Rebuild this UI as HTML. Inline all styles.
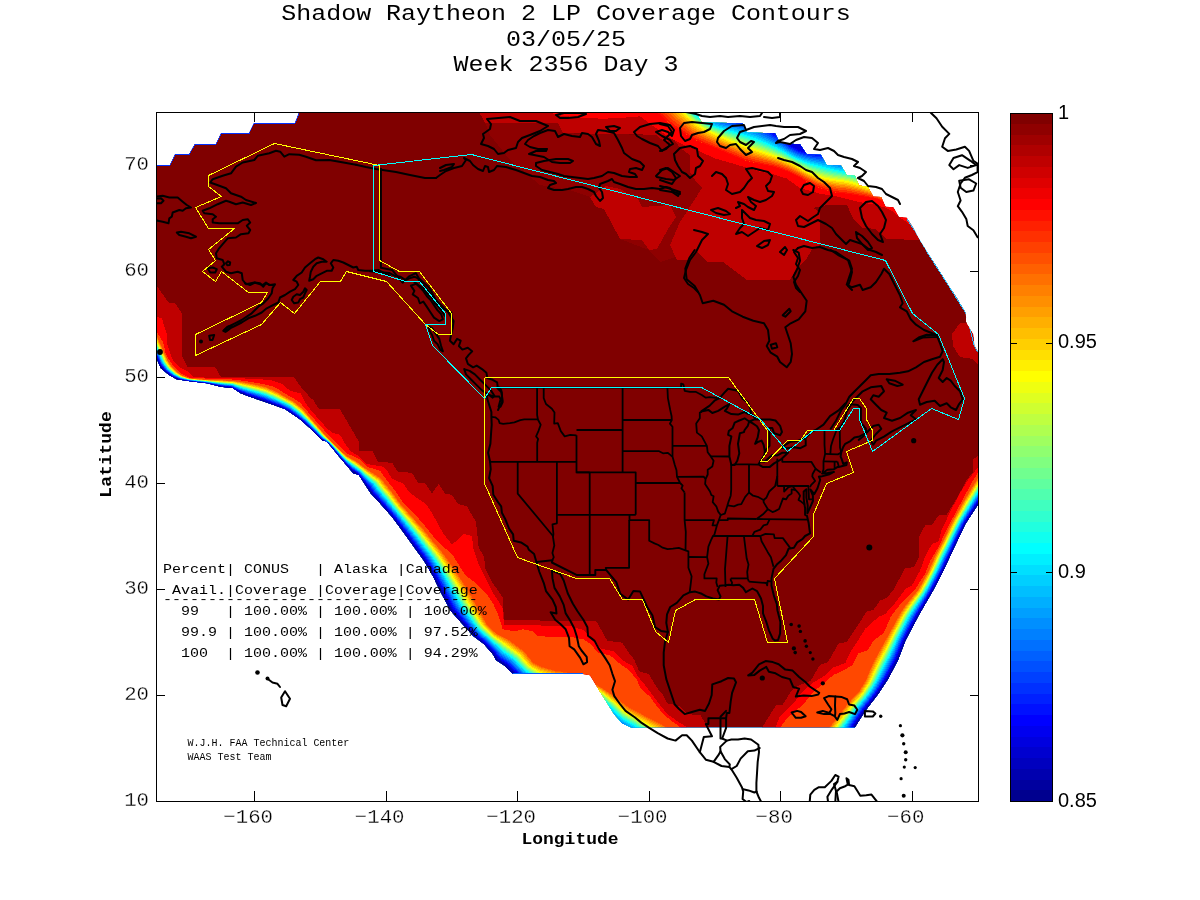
<!DOCTYPE html>
<html><head><meta charset="utf-8"><title>Shadow Raytheon 2 LP Coverage Contours</title>
<style>html,body{margin:0;padding:0;background:#fff}svg{display:block}text{font-family:"Liberation Mono","DejaVu Sans Mono",monospace;fill:#000}.cb{font-family:"Liberation Sans","DejaVu Sans",sans-serif;font-size:20px}</style></head><body>
<svg width="1200" height="900" viewBox="0 0 1200 900">
<rect width="1200" height="900" fill="#fff"/>
<defs><clipPath id="ax"><rect x="157" y="113" width="821" height="688"/></clipPath><clipPath id="oc"><path d="M156,164.5 170,164.5 175,154 189,154 195,143.5 216,143.5 221,133 249,133 254,122.5 295,122.5 299,112 695.8,112 701.7,122.5 742.5,123.3 746.7,132.5 775,133.3 780,143.3 800,144.2 806.7,154.2 820.8,154.7 826.7,165 840.8,165.3 846.7,175 855,175.8 858.9,185.6 867.8,186.7 873.3,196.7 881,197 885.6,206.7 893.3,207.3 898.9,217.1 906.7,217.8 913.3,227.8 917.8,236.7 928.9,254.4 937.8,267.8 948.9,285.6 957.8,298.9 965.6,312.2 966.7,323.3 973.3,334.4 974.4,345.6 979,353.3 979,503 965.3,524 953.3,549.3 942.7,572 933.3,590 918.7,615.3 905.3,640.7 898,660 888,679 878.7,693.3 865.3,710.7 854.7,727.5 631.3,727.5 622,723.3 614,714 600.7,692.7 590,675.3 583,674 513.3,674 504,665.3 496,660 493.3,654.7 484,644 473.3,636 460,621.3 450.7,610.7 440,590.7 433.3,576.7 424,560.7 413.3,546 402.7,531.3 392,516.7 380,503.3 370.7,493.3 358.7,474.7 353.3,473.3 338.7,456 326.7,441.3 322.7,440.7 310.7,428.7 300,419.3 285,409 262.5,401 251.3,397.3 240.7,393.3 232.7,388 220.7,386.7 207.3,383.3 190,381.3 176.7,379.3 168.7,374.7 160.7,368 156,357Z"/></clipPath></defs>
<g stroke="#000" stroke-width="1" shape-rendering="crispEdges">
<path d="M254.5,801V791M254.5,113V122"/>
<path d="M386.5,801V791M386.5,113V122"/>
<path d="M517.5,801V791M517.5,113V122"/>
<path d="M649.5,801V791M649.5,113V122"/>
<path d="M780.5,801V791M780.5,113V122"/>
<path d="M912.5,801V791M912.5,113V122"/>
<path d="M157,695.5H165M978,695.5H970"/>
<path d="M157,589.5H165M978,589.5H970"/>
<path d="M157,483.5H165M978,483.5H970"/>
<path d="M157,377.5H165M978,377.5H970"/>
<path d="M157,271.5H165M978,271.5H970"/>
<path d="M157,165.5H165M978,165.5H970"/>
</g>
<g clip-path="url(#ax)"><g clip-path="url(#oc)" shape-rendering="crispEdges">
<path d="M156,164.5 170,164.5 175,154 189,154 195,143.5 216,143.5 221,133 249,133 254,122.5 295,122.5 299,112 695.8,112 701.7,122.5 742.5,123.3 746.7,132.5 775,133.3 780,143.3 800,144.2 806.7,154.2 820.8,154.7 826.7,165 840.8,165.3 846.7,175 855,175.8 858.9,185.6 867.8,186.7 873.3,196.7 881,197 885.6,206.7 893.3,207.3 898.9,217.1 906.7,217.8 913.3,227.8 917.8,236.7 928.9,254.4 937.8,267.8 948.9,285.6 957.8,298.9 965.6,312.2 966.7,323.3 973.3,334.4 974.4,345.6 979,353.3 979,503 965.3,524 953.3,549.3 942.7,572 933.3,590 918.7,615.3 905.3,640.7 898,660 888,679 878.7,693.3 865.3,710.7 854.7,727.5 631.3,727.5 622,723.3 614,714 600.7,692.7 590,675.3 583,674 513.3,674 504,665.3 496,660 493.3,654.7 484,644 473.3,636 460,621.3 450.7,610.7 440,590.7 433.3,576.7 424,560.7 413.3,546 402.7,531.3 392,516.7 380,503.3 370.7,493.3 358.7,474.7 353.3,473.3 338.7,456 326.7,441.3 322.7,440.7 310.7,428.7 300,419.3 285,409 262.5,401 251.3,397.3 240.7,393.3 232.7,388 220.7,386.7 207.3,383.3 190,381.3 176.7,379.3 168.7,374.7 160.7,368 156,357Z" fill="#800000"/>
<path d="M485,122.7 558,123.3 563.3,133.3 656,135 666,143 673,138 680,148 690,155 690,172 702,188 680,222 670,245 676,257 660,262 649,250 620,239 604,209 590,197 570,190 540,185 510,160 490,135Z" fill="#8e0000"/>
<path d="M479,112 485,122.7 558,123.3 563.3,133.3 630,134 656,135 666,143 673,138 680,148 690,155 690,172 697,183 702,188 693,202 680,222 670,245 677,260 690,260 697,252 707,262 723,262 747,280 790,280 797,268 807,258 813,248 820,245 820,212 813,208 827,205 847,205 853.3,218.9 862.2,227.8 875.6,228.9 886.7,238.9 918.9,240 1000,240 1000,100 479,100Z" fill="#bf0000"/>
<path d="M590,197 596,207 604,209 620,239 642,240 649,250 657,249 668,229 676,217 670,205 642,207 638,199 620,189 606,186Z" fill="#bf0000"/>
<path d="M960,323 967,323 985,353 985,370 979,366 973,359 960,357 953,346 952,334Z" fill="#bf0000"/>
<path d="M156,284.7 168.7,302.7 175.3,303.3 182,313.3 182,356 187.3,366.7 215.3,367.3 220.7,376.7 294,377.3 300.7,386.7 310,397.3 313.3,400 318.7,408.7 340,409.3 358.7,441.3 358.7,450.7 372.7,451.3 378,462 392,462.7 398,472 412,472.7 418,482.7 425.3,483.3 432,493.3 438.7,484 445.3,494 452,494.7 457.3,503.3 460,504.7 466.7,506 476,522 478.7,547.3 484,556.7 485.3,568.7 492,582 502.7,597.3 504,620 596,621.3 596.7,622 607.3,640.7 622,642.7 628.7,652.7 634,659.3 639.3,671.3 648.7,674 656.7,687.3 663.3,695.3 667.3,703.3 679.3,706 687.3,714 700.7,715.3 707.3,727.5 707.3,780 100,780 100,284.7Z" fill="#bf0000"/>
<path d="M979,455 972.5,460 972.5,472.5 966.7,480 957.3,497.3 946.7,514.7 938.7,515.3 932,524.7 925.3,525.3 919.3,536 918.7,557.3 914,567.3 905.3,568 893.3,590 886.7,598 880,600.7 873.3,610 866.7,611.3 860,622 852,634 846.7,642 838.7,643.3 828,662 820,664.7 810.7,680.7 797.3,686 790.7,692 782.7,704.7 776,705.3 766.7,720 762,727.5 762,780 1030,780 1030,455Z" fill="#bf0000"/>
<path d="M156,316 162,318.7 167.3,336 167.3,344 172.7,360 180.7,368 188.7,372 194,377.3 230,378 251.3,378.7 270,380 282,384 290,390.7 300.7,393.3 304,400 308,406.7 316,416 326.7,428 332,432.7 340,434.7 345.3,444 350.7,451.3 358.7,456 366.7,464 382.7,466.7 388,472 392,478.7 404,484 408,490.7 413.3,495.3 426.7,504.7 433.3,515.3 442.7,532.7 452,544.7 464,534 472,536 473.3,548.7 478.7,564.7 485.3,578 494,594.5 502.7,608 504,625.3 520,624.7 533.3,625.3 560,626 570,626 583.3,630 592.7,638 600.7,648.7 614,651.3 623.3,660.7 632.7,666 638,676.7 644.7,684.7 652.7,695.3 660.7,706 667.3,714 676.7,720.7 687.3,727.5 687.3,780 100,780 100,316Z" fill="#ff0000"/>
<path d="M979,466 968,480 960,493.3 950.7,510.7 941.3,530.7 938.7,541.3 932,544 925.3,556 920,570.7 912,585.3 905.5,589 894.7,603.3 885.3,614 878.7,616.7 865.3,628.7 858.7,639.3 850.7,651.5 845.3,663 833.3,667.5 823.5,676.5 812.5,683 801,693 796,700 788,708 780,716 775.3,727.5 775.3,780 1030,780 1030,466Z" fill="#ff0000"/>
<path d="M547,112 563,116 585,118 603,118.7 620,118 640,116.3 648,122.3 657.3,129 670.7,138.3 684,145 697.3,150.3 714.7,158.3 733.3,163.7 746.7,167.7 760,171.7 773.3,174.3 786.7,178.5 800,188 820,193.7 833.3,195.7 846.7,199 857.3,201.7 873.3,204.3 885.3,207.7 893.3,211.7 900,217.7 912,226 1000,224 1000,100 547,100Z" fill="#ff0000"/>
<path d="M156,330.7 163.3,342.7 166,354.7 172.7,365.3 180.7,373.3 190,378 230,379.3 243.3,380.7 259.3,383.3 274,386.7 284.7,393.3 294,398.7 300,402.7 308,412 317.3,422.7 330.7,437.3 338.7,445.3 346.7,453.3 358.7,458.7 366.7,466.7 380,470.7 386.7,480 394.7,490 402.7,502 414.7,514 424,524.7 434.7,538 444,547.3 452,554 458.7,564.7 465.3,575.3 476,583.3 484,591.3 488,596 493.3,604 498.7,616 502.7,629.3 514.7,631.3 522.7,629.3 533.3,631.3 537.3,636 557.3,637.3 570,636.7 583.3,639.3 591.3,644.7 598,652.7 610,655.3 619.3,663.3 628.7,670 636.7,679.3 640.7,688.7 650,696.7 656.7,706 663.3,714 671.3,720.7 680.7,727.5 680.7,780 100,780 100,330.7Z" fill="#ff4800"/>
<path d="M979,471 973.3,480 965.3,494.7 956,512 946.7,529.3 938.7,546.7 930.7,560 925.3,573.3 914.7,590 900,604.7 890.7,616.7 884,632.7 873.3,640.7 868,650 858,653.5 852,665.5 843,670.5 833.3,675 823,684 812,693 804,703.5 796,710.7 786.7,718.7 780,727.5 780,780 1030,780 1030,471Z" fill="#ff4800"/>
<path d="M650,106 658.7,113 670.7,125 684,133 697.3,141 714.7,147.7 733.3,155.7 746.7,161 760,164 773.3,166.5 786.7,171 800,177.5 806.7,181.7 820,188.3 833.3,192.3 846.7,193.7 860,195.7 870.7,197.7 878.7,199 895,208 910,218 1000,218 1000,90 650,90Z" fill="#ff4800"/>
<path d="M156,334 167.6,360.2 171.2,366 177.1,372.1 181.1,375.1 189,378.2 197.4,379.1 205.9,379.7 214.4,380.1 222.9,380.3 233.1,380.9 239.8,381.6 249.9,383.4 258.2,385.1 266.5,387.1 278.6,392.8 285.9,397.2 293.4,401.3 303.7,409.7 307.9,415.1 313.4,421.5 320.1,429.2 325.7,435.7 330.3,440.7 336.4,446.5 342.5,452.5 347.6,456.8 355.3,460.6 363.3,466.8 367.5,469.6 381.3,478.5 385.4,484 392,491.8 396.8,498.8 400.9,504.2 407.7,511.9 413.3,518.2 419,524.5 424.7,530.8 431.1,538.8 435.4,544.1 440.9,550.5 448,560 452.8,567.1 457.6,574.1 463.2,582.6 467.7,589.8 472.8,598.6 476.8,606.1 480.9,613.6 485,621 486.7,624 492.7,630 496.4,633.5 502.5,636.6 508.5,639.6 524.4,651.5 528.5,656.9 532.9,662.2 534.2,663.2 541.8,666.9 546.7,668.3 554.9,670.7 559.9,671.4 566.7,672.4 574.9,674.1 581,677.1 588.7,680.8 594.8,683.8 602,688.2 607.8,691.8 617.6,698.4 624.1,703.9 629.7,707.8 667.3,727.5 667.3,780 100,780 100,334Z" fill="#ff6000"/>
<path d="M156,334.8 167.4,360.4 171,366.2 176.9,372.3 181.1,375.3 189,378.3 197.4,379.2 205.9,379.8 214.4,380.3 222.9,380.5 233,381.1 239.8,382 249.8,383.8 258.1,385.5 266.4,387.6 278.4,393.2 285.7,397.5 293.2,401.6 303.4,409.9 307.7,415.3 313.3,421.7 319.9,429.4 325.5,435.8 330.2,440.8 336.3,446.6 342.4,452.6 347.6,457 355.1,460.9 363.1,467 367.4,470 380.9,478.9 385,484.4 391.5,492.1 396.4,499.1 400.5,504.6 407.3,512.2 412.9,518.5 418.6,524.9 424.2,531.2 430.6,539.2 434.9,544.5 440.5,550.9 447.4,560.4 452.2,567.5 457,574.5 462.5,583 467,590.2 472.1,599 476.2,606.5 480.3,613.9 484.5,621.3 486.3,624.4 492.3,630.4 496.1,634 502.2,637.1 508.2,640.3 523.8,652 528,657.4 532.4,662.7 533.9,663.8 541.5,667.6 546.5,669 554.7,671.4 559.9,672.1 566.6,672.9 574.8,674.4 581,677.2 588.6,680.9 594.7,684.1 601.8,688.6 607.6,692.3 617.2,699 623.7,704.5 629.2,708.5 665.8,727.7 665.8,780 100,780 100,334.8Z" fill="#ff8000"/>
<path d="M156,335.9 167,360.6 170.7,366.5 176.7,372.5 181,375.5 189,378.5 197.4,379.4 205.9,380 214.4,380.5 222.9,380.9 233,381.4 239.8,382.5 249.7,384.4 258,386.2 266.2,388.3 278.1,393.7 285.4,398 292.9,402.1 303,410.2 307.4,415.5 313,421.9 319.7,429.5 325.3,435.9 330.1,440.9 336.2,446.8 342.2,452.8 347.4,457.3 354.9,461.4 362.9,467.4 367.1,470.6 380.2,479.3 384.4,484.9 390.9,492.6 395.8,499.5 400,505.1 406.7,512.6 412.3,519 418,525.4 423.6,531.8 429.8,539.7 434.2,545.1 439.7,551.6 446.6,561 451.3,568.1 456,575.2 461.5,583.6 465.9,590.9 471,599.6 475.2,607 479.4,614.4 483.6,621.8 485.6,625 491.7,631 495.6,634.6 501.7,638 507.7,641.4 522.8,652.7 527.1,658.2 531.7,663.4 533.5,664.7 541.1,668.6 546.2,670.1 554.4,672.4 559.7,673.1 566.5,673.7 574.7,674.8 580.9,677.4 588.5,681.2 594.5,684.5 601.5,689.2 607.2,693.1 616.6,699.8 623,705.4 628.5,709.5 663.6,728 663.6,780 100,780 100,335.9Z" fill="#ff9f00"/>
<path d="M156,337 166.6,360.9 170.4,366.7 176.4,372.7 181,375.7 189,378.6 197.4,379.5 205.9,380.2 214.4,380.8 222.9,381.2 232.9,381.8 239.7,383 249.5,385 257.8,386.8 266.1,389 277.7,394.3 285.1,398.5 292.6,402.5 302.5,410.5 307.1,415.8 312.8,422.2 319.4,429.7 325.1,436.1 330,441 336.1,447 342.1,453 347.3,457.7 354.6,461.8 362.6,467.8 366.9,471.1 379.5,479.8 383.7,485.5 390.2,493.1 395.2,500 399.5,505.6 406.1,513.1 411.7,519.5 417.3,526 422.9,532.4 429.1,540.2 433.5,545.7 439,552.3 445.7,561.6 450.4,568.7 455.1,575.8 460.5,584.2 464.9,591.5 469.9,600.2 474.2,607.5 478.4,614.9 482.8,622.2 485,625.6 491.2,631.5 495.2,635.3 501.2,638.9 507.1,642.4 521.9,653.4 526.3,658.9 530.9,664.2 533,665.7 540.6,669.6 545.9,671.2 554.1,673.4 559.6,674.1 566.4,674.4 574.5,675.2 580.8,677.5 588.3,681.4 594.2,684.9 601.1,689.8 606.8,693.8 615.9,700.6 622.2,706.2 627.8,710.5 661.4,728.3 661.4,780 100,780 100,337Z" fill="#ffbf00"/>
<path d="M156,338.1 166.2,361.1 170.1,367 176.2,372.9 180.9,376 188.9,378.7 197.4,379.7 205.9,380.3 214.4,381 222.9,381.5 232.8,382.1 239.7,383.5 249.4,385.6 257.7,387.5 265.9,389.7 277.4,394.9 284.9,399 292.4,403 302.1,410.8 306.8,416.1 312.6,422.5 319.2,429.9 324.8,436.3 329.9,441.1 335.9,447.1 341.9,453.2 347.1,458 354.4,462.3 362.3,468.1 366.7,471.7 378.9,480.3 383.1,486 389.6,493.6 394.6,500.5 398.9,506.1 405.5,513.6 411.1,520 416.7,526.5 422.2,533 428.4,540.8 432.8,546.4 438.3,552.9 444.9,562.1 449.5,569.3 454.1,576.4 459.5,584.8 463.9,592.1 468.8,600.7 473.1,608.1 477.5,615.4 482,622.6 484.4,626.2 490.6,632.1 494.7,636 500.7,639.7 506.6,643.5 520.9,654.1 525.4,659.6 530.2,664.9 532.6,666.7 540.1,670.6 545.5,672.3 553.8,674.4 559.5,675.1 566.4,675.2 574.3,675.6 580.8,677.7 588.2,681.6 594,685.4 600.8,690.3 606.4,694.6 615.3,701.4 621.5,707.1 627.1,711.5 659.2,728.7 659.2,780 100,780 100,338.1Z" fill="#ffdf00"/>
<path d="M156,339.2 165.8,361.3 169.8,367.3 175.9,373.1 180.8,376.2 188.9,378.9 197.4,379.8 205.9,380.5 214.4,381.2 222.9,381.8 232.7,382.5 239.7,384 249.2,386.2 257.5,388.1 265.8,390.4 277.1,395.4 284.6,399.5 292.1,403.5 301.7,411.1 306.6,416.4 312.3,422.7 318.9,430.1 324.6,436.4 329.8,441.2 335.8,447.3 341.7,453.4 347,458.3 354.2,462.7 362,468.5 366.4,472.2 378.2,480.8 382.5,486.6 388.9,494.1 394,500.9 398.4,506.6 404.9,514.1 410.5,520.6 416,527 421.5,533.6 427.7,541.3 432.1,547 437.5,553.6 444,562.7 448.6,569.9 453.2,577.1 458.4,585.4 462.8,592.8 467.7,601.3 472.1,608.6 476.6,615.9 481.1,623.1 483.8,626.8 490,632.7 494.3,636.7 500.3,640.6 506.1,644.5 520,654.8 524.6,660.4 529.5,665.7 532.1,667.6 539.6,671.7 545.2,673.4 553.5,675.4 559.4,676.1 566.3,676 574.2,676.1 580.7,677.9 588,681.8 593.8,685.8 600.5,690.9 606,695.3 614.6,702.2 620.8,708 626.4,712.5 657,729 657,780 100,780 100,339.2Z" fill="#ffff00"/>
<path d="M156,340.2 165.4,361.5 169.5,367.5 175.7,373.3 180.8,376.4 188.9,379 197.4,379.9 205.9,380.6 214.4,381.4 222.9,382.1 232.7,382.7 239.6,384.5 249.1,386.7 257.4,388.7 265.7,390.9 276.8,395.9 284.3,399.9 291.9,403.9 301.3,411.4 306.3,416.7 312.1,422.9 318.7,430.2 324.4,436.6 329.7,441.3 335.7,447.4 341.6,453.6 346.9,458.5 354,463.1 361.8,468.8 366.2,472.7 377.6,481.2 382,487 388.4,494.5 393.5,501.3 398,507 404.4,514.5 410,521 415.5,527.5 421,534 427.1,541.7 431.6,547.5 436.9,554.1 443.3,563.2 447.9,570.4 452.4,577.6 457.6,585.9 462,593.3 466.8,601.8 471.3,609 475.8,616.3 480.4,623.4 483.2,627.3 489.5,633.1 493.9,637.3 499.9,641.3 505.6,645.4 519.2,655.4 523.9,661 528.9,666.3 531.8,668.4 539.2,672.5 545,674.2 553.3,676.2 559.3,676.9 566.2,676.6 574.1,676.4 580.6,678 587.9,682 593.7,686.1 600.2,691.4 605.7,696 614.1,702.8 620.2,708.7 625.9,713.3 655.2,729.2 655.2,780 100,780 100,340.2Z" fill="#dfff20"/>
<path d="M156,340.9 165.2,361.7 169.3,367.7 175.6,373.5 180.8,376.5 188.9,379.1 197.4,380 205.9,380.7 214.4,381.6 222.9,382.3 232.6,383 239.6,384.8 249,387.1 257.3,389.1 265.6,391.4 276.6,396.3 284.1,400.2 291.7,404.2 301.1,411.6 306.1,416.9 312,423.1 318.5,430.3 324.3,436.7 329.6,441.4 335.6,447.5 341.5,453.7 346.8,458.8 353.8,463.4 361.6,469.1 366.1,473 377.2,481.5 381.6,487.4 387.9,494.8 393.1,501.6 397.6,507.4 404,514.8 409.5,521.3 415.1,527.9 420.6,534.4 426.6,542.1 431.1,547.9 436.5,554.6 442.7,563.5 447.3,570.8 451.8,578 456.9,586.3 461.3,593.7 466.1,602.2 470.6,609.4 475.2,616.6 479.9,623.7 482.8,627.7 489.1,633.5 493.6,637.7 499.6,641.8 505.3,646.1 518.5,655.9 523.3,661.5 528.4,666.8 531.5,669 538.9,673.2 544.7,675 553.1,676.9 559.2,677.6 566.1,677.1 574,676.7 580.6,678.1 587.8,682.2 593.5,686.4 600,691.8 605.4,696.5 613.7,703.4 619.8,709.3 625.4,714 653.7,729.5 653.7,780 100,780 100,340.9Z" fill="#bfff40"/>
<path d="M156,341.7 164.9,361.8 169.1,367.9 175.4,373.6 180.7,376.7 188.9,379.2 197.4,380.1 205.9,380.9 214.4,381.8 222.9,382.5 232.6,383.2 239.6,385.2 248.9,387.5 257.2,389.6 265.5,391.9 276.3,396.6 283.9,400.5 291.5,404.5 300.8,411.8 305.9,417.1 311.8,423.3 318.4,430.4 324.1,436.8 329.6,441.5 335.5,447.6 341.4,453.9 346.7,459 353.7,463.7 361.4,469.3 365.9,473.4 376.7,481.8 381.1,487.8 387.5,495.1 392.7,501.9 397.3,507.7 403.6,515.1 409.1,521.7 414.6,528.2 420.1,534.8 426.1,542.5 430.7,548.3 436,555 442.1,563.9 446.7,571.2 451.2,578.5 456.2,586.7 460.6,594.1 465.4,602.6 470,609.7 474.6,616.9 479.3,624 482.4,628.1 488.7,633.9 493.3,638.2 499.3,642.4 504.9,646.8 517.9,656.4 522.8,662 527.9,667.3 531.2,669.7 538.6,673.9 544.5,675.7 552.9,677.5 559.1,678.2 566.1,677.6 573.8,677 580.5,678.2 587.7,682.3 593.4,686.7 599.8,692.1 605.2,697 613.2,703.9 619.3,709.9 624.9,714.7 652.2,729.7 652.2,780 100,780 100,341.7Z" fill="#9fff60"/>
<path d="M156,342.4 164.6,362 168.9,368 175.2,373.7 180.7,376.8 188.9,379.3 197.4,380.2 205.9,381 214.4,381.9 222.9,382.7 232.5,383.4 239.6,385.5 248.8,387.9 257.1,390 265.4,392.3 276.1,397 283.7,400.8 291.3,404.8 300.5,412 305.7,417.2 311.6,423.4 318.2,430.6 324,436.9 329.5,441.6 335.4,447.7 341.3,454 346.6,459.2 353.5,464 361.2,469.6 365.8,473.8 376.3,482.1 380.7,488.1 387,495.4 392.3,502.2 397,508.1 403.2,515.4 408.7,522 414.2,528.6 419.7,535.2 425.6,542.8 430.2,548.7 435.5,555.5 441.6,564.3 446.1,571.6 450.6,578.9 455.6,587.1 459.9,594.5 464.7,602.9 469.3,610.1 474,617.2 478.8,624.3 482,628.5 488.3,634.2 493,638.6 498.9,643 504.6,647.5 517.3,656.8 522.2,662.5 527.4,667.8 530.9,670.3 538.3,674.5 544.3,676.4 552.7,678.2 559,678.9 566,678.1 573.7,677.2 580.5,678.3 587.6,682.4 593.2,687 599.5,692.5 604.9,697.5 612.8,704.4 618.8,710.5 624.5,715.3 650.7,729.9 650.7,780 100,780 100,342.4Z" fill="#80ff80"/>
<path d="M156,343.2 164.4,362.1 168.7,368.2 175.1,373.9 180.6,377 188.8,379.4 197.4,380.3 205.9,381.1 214.4,382.1 222.9,383 232.5,383.7 239.5,385.8 248.7,388.3 257,390.4 265.3,392.8 275.9,397.4 283.5,401.2 291.1,405.1 300.2,412.2 305.5,417.4 311.5,423.6 318,430.7 323.8,437 329.4,441.6 335.3,447.8 341.2,454.1 346.5,459.4 353.3,464.3 361,469.8 365.6,474.1 375.8,482.4 380.3,488.5 386.6,495.8 391.9,502.5 396.6,508.4 402.8,515.7 408.3,522.3 413.8,528.9 419.2,535.6 425.1,543.2 429.7,549.2 435,555.9 441,564.7 445.5,572 449.9,579.3 454.9,587.5 459.2,594.9 463.9,603.3 468.6,610.5 473.4,617.6 478.2,624.6 481.6,628.9 488,634.6 492.7,639.1 498.6,643.6 504.2,648.2 516.6,657.3 521.6,663 527,668.3 530.6,670.9 538,675.2 544.1,677.1 552.5,678.8 559,679.5 566,678.6 573.6,677.5 580.4,678.5 587.5,682.6 593.1,687.3 599.3,692.9 604.6,698 612.4,705 618.3,711 624,716 649.3,730.1 649.3,780 100,780 100,343.2Z" fill="#60ff9f"/>
<path d="M156,343.9 164.1,362.3 168.5,368.4 174.9,374 180.6,377.1 188.8,379.5 197.3,380.4 205.9,381.2 214.4,382.3 222.9,383.2 232.4,383.9 239.5,386.2 248.6,388.7 256.9,390.9 265.2,393.3 275.7,397.8 283.4,401.5 291,405.4 299.9,412.4 305.4,417.6 311.3,423.8 317.8,430.8 323.7,437.1 329.3,441.7 335.2,447.9 341.1,454.3 346.4,459.6 353.2,464.6 360.8,470.1 365.5,474.5 375.4,482.7 379.9,488.9 386.2,496.1 391.5,502.8 396.3,508.7 402.4,516 407.9,522.7 413.4,529.3 418.8,536 424.6,543.5 429.3,549.6 434.5,556.4 440.4,565.1 444.9,572.4 449.3,579.7 454.2,587.9 458.5,595.4 463.2,603.7 468,610.8 472.8,617.9 477.6,624.9 481.1,629.3 487.6,635 492.4,639.6 498.3,644.1 503.9,648.9 516,657.8 521.1,663.4 526.5,668.8 530.3,671.6 537.6,675.9 543.9,677.8 552.3,679.5 558.9,680.2 565.9,679.2 573.5,677.8 580.3,678.6 587.4,682.7 593,687.6 599.1,693.3 604.4,698.5 611.9,705.5 617.9,711.6 623.5,716.7 647.8,730.3 647.8,780 100,780 100,343.9Z" fill="#40ffbf"/>
<path d="M156,344.7 163.8,362.5 168.3,368.6 174.7,374.2 180.6,377.3 188.8,379.5 197.3,380.5 205.9,381.3 214.4,382.4 222.9,383.4 232.4,384.1 239.5,386.5 248.6,389.1 256.8,391.3 265.1,393.7 275.4,398.1 283.2,401.8 290.8,405.7 299.6,412.6 305.2,417.8 311.2,424 317.7,430.9 323.5,437.2 329.3,441.8 335.2,448.1 341,454.4 346.3,459.8 353,464.9 360.6,470.3 365.3,474.9 374.9,483.1 379.5,489.2 385.7,496.4 391.1,503.1 395.9,509.1 402.1,516.4 407.5,523 412.9,529.7 418.3,536.4 424.1,543.9 428.8,550 434,556.8 439.9,565.4 444.3,572.8 448.7,580.2 453.5,588.3 457.8,595.8 462.5,604.1 467.3,611.2 472.1,618.2 477.1,625.2 480.7,629.7 487.2,635.4 492.1,640 498,644.7 503.5,649.6 515.4,658.3 520.5,663.9 526,669.3 530,672.2 537.3,676.6 543.7,678.6 552.1,680.2 558.8,680.9 565.8,679.7 573.4,678.1 580.3,678.7 587.3,682.9 592.8,687.9 598.9,693.7 604.1,699 611.5,706 617.4,712.2 623.1,717.3 646.3,730.5 646.3,780 100,780 100,344.7Z" fill="#20ffdf"/>
<path d="M156,345.4 163.6,362.6 168.1,368.7 174.6,374.3 180.5,377.4 188.8,379.6 197.3,380.6 205.9,381.4 214.4,382.6 222.9,383.6 232.3,384.3 239.4,386.9 248.5,389.5 256.7,391.8 265,394.2 275.2,398.5 283,402.1 290.6,406 299.4,412.8 305,418 311,424.1 317.5,431 323.4,437.3 329.2,441.9 335.1,448.2 340.9,454.5 346.2,460 352.9,465.2 360.4,470.5 365.1,475.2 374.5,483.4 379.1,489.6 385.3,496.7 390.7,503.4 395.6,509.4 401.7,516.7 407.1,523.3 412.5,530 417.9,536.7 423.6,544.3 428.3,550.4 433.5,557.3 439.3,565.8 443.7,573.2 448,580.6 452.8,588.7 457.1,596.2 461.8,604.5 466.6,611.5 471.5,618.5 476.5,625.5 480.3,630.1 486.8,635.8 491.8,640.5 497.7,645.3 503.2,650.3 514.7,658.7 520,664.4 525.5,669.8 529.7,672.8 537,677.3 543.4,679.3 551.9,680.8 558.7,681.5 565.8,680.2 573.3,678.3 580.2,678.8 587.2,683 592.7,688.2 598.7,694.1 603.9,699.5 611.1,706.6 616.9,712.8 622.6,718 644.8,730.7 644.8,780 100,780 100,345.4Z" fill="#00ffff"/>
<path d="M156,346.3 163.2,362.8 167.8,369 174.4,374.5 180.5,377.6 188.8,379.8 197.3,380.7 205.9,381.6 214.4,382.8 222.9,383.9 232.3,384.6 239.4,387.3 248.3,390 256.6,392.3 264.9,394.8 274.9,399 282.7,402.6 290.4,406.4 299,413 304.7,418.3 310.8,424.3 317.3,431.2 323.2,437.5 329.1,442 334.9,448.3 340.7,454.7 346.1,460.3 352.7,465.6 360.2,470.9 364.9,475.7 373.9,483.8 378.5,490.1 384.8,497.1 390.2,503.8 395.1,509.9 401.2,517.1 406.6,523.8 412,530.5 417.3,537.2 423,544.7 427.8,550.9 432.9,557.8 438.6,566.3 443,573.7 447.3,581.1 452,589.2 456.3,596.7 460.9,604.9 465.8,612 470.8,618.9 475.8,625.8 479.8,630.6 486.3,636.2 491.4,641 497.3,646 502.7,651.2 513.9,659.3 519.2,665 524.9,670.4 529.3,673.6 536.6,678.1 543.2,680.2 551.6,681.7 558.6,682.4 565.7,680.8 573.2,678.7 580.2,678.9 587.1,683.2 592.5,688.5 598.4,694.5 603.5,700.2 610.5,707.2 616.3,713.5 622,718.8 643,731 643,780 100,780 100,346.3Z" fill="#00dfff"/>
<path d="M156,347.3 162.9,363 167.6,369.2 174.1,374.7 180.4,377.8 188.8,379.9 197.3,380.9 205.9,381.7 214.4,383 222.9,384.2 232.2,384.9 239.4,387.7 248.2,390.5 256.5,392.9 264.8,395.4 274.6,399.4 282.5,403 290.1,406.8 298.6,413.3 304.5,418.5 310.6,424.6 317.1,431.3 323,437.6 329,442.1 334.8,448.4 340.6,454.9 346,460.5 352.5,466 359.9,471.2 364.7,476.2 373.3,484.2 378,490.5 384.2,497.5 389.6,504.2 394.7,510.3 400.7,517.5 406,524.2 411.4,531 416.7,537.7 422.4,545.2 427.2,551.5 432.3,558.4 437.8,566.8 442.2,574.2 446.5,581.7 451.1,589.8 455.4,597.3 459.9,605.4 464.9,612.4 470,619.3 475.1,626.2 479.2,631.2 485.8,636.7 491,641.6 496.9,646.7 502.3,652.1 513.1,659.9 518.5,665.7 524.3,671 528.9,674.4 536.2,679 542.9,681.1 551.4,682.5 558.5,683.2 565.6,681.5 573,679.1 580.1,679.1 587,683.4 592.3,688.9 598.1,695 603.2,700.8 610,707.9 615.7,714.3 621.4,719.7 641.1,731.3 641.1,780 100,780 100,347.3Z" fill="#00bfff"/>
<path d="M156,348.3 162.5,363.2 167.3,369.4 173.9,374.9 180.4,378 188.7,380 197.3,381 205.9,381.8 214.4,383.2 222.9,384.4 232.2,385.2 239.3,388.2 248.1,391 256.4,393.5 264.6,396 274.4,399.9 282.2,403.4 289.9,407.2 298.3,413.5 304.2,418.8 310.4,424.8 316.8,431.5 322.8,437.7 328.9,442.2 334.7,448.6 340.4,455 345.9,460.8 352.3,466.4 359.7,471.5 364.5,476.7 372.7,484.6 377.5,491 383.6,498 389.1,504.6 394.2,510.7 400.2,517.9 405.5,524.6 410.9,531.4 416.2,538.2 421.8,545.6 426.6,552 431.7,559 437.1,567.3 441.5,574.7 445.6,582.2 450.2,590.3 454.5,597.8 459,605.9 464,612.9 469.2,619.8 474.4,626.6 478.7,631.7 485.3,637.2 490.6,642.2 496.5,647.5 501.8,653 512.3,660.6 517.8,666.3 523.7,671.7 528.5,675.3 535.8,679.9 542.6,682 551.1,683.4 558.4,684.1 565.5,682.1 572.9,679.4 580,679.2 586.9,683.6 592.2,689.3 597.8,695.5 602.9,701.5 609.4,708.6 615.1,715 620.8,720.5 639.2,731.5 639.2,780 100,780 100,348.3Z" fill="#009fff"/>
<path d="M156,349.2 162.2,363.4 167,369.7 173.7,375.1 180.3,378.2 188.7,380.1 197.3,381.1 205.9,382 214.4,383.4 222.9,384.7 232.1,385.5 239.3,388.6 248,391.5 256.2,394 264.5,396.5 274.1,400.4 282,403.8 289.7,407.7 297.9,413.8 304,419 310.2,425 316.6,431.6 322.6,437.9 328.9,442.3 334.6,448.7 340.3,455.2 345.8,461.1 352.1,466.8 359.4,471.8 364.4,477.1 372.2,485 376.9,491.5 383.1,498.4 388.6,505 393.8,511.2 399.7,518.3 405,525.1 410.3,531.9 415.6,538.7 421.1,546.1 426,552.5 431.1,559.5 436.3,567.8 440.7,575.2 444.8,582.8 449.4,590.8 453.6,598.3 458.1,606.4 463.2,613.3 468.4,620.2 473.7,627 478.2,632.2 484.8,637.7 490.2,642.8 496.1,648.2 501.4,653.9 511.5,661.2 517.1,666.9 523.1,672.3 528.2,676.1 535.4,680.8 542.3,682.9 550.9,684.2 558.3,684.9 565.5,682.8 572.8,679.8 580,679.4 586.8,683.8 592,689.6 597.5,696 602.5,702.1 608.9,709.3 614.5,715.8 620.2,721.4 637.3,731.8 637.3,780 100,780 100,349.2Z" fill="#0080ff"/>
<path d="M156,350.2 161.9,363.6 166.8,369.9 173.5,375.3 180.3,378.4 188.7,380.2 197.3,381.2 205.9,382.1 214.4,383.6 222.9,385 232,385.8 239.3,389.1 247.9,392 256.1,394.6 264.4,397.1 273.8,400.9 281.7,404.2 289.4,408.1 297.6,414 303.7,419.3 310,425.2 316.4,431.8 322.4,438 328.8,442.4 334.5,448.8 340.2,455.4 345.7,461.3 351.9,467.2 359.2,472.1 364.2,477.6 371.6,485.4 376.4,492 382.5,498.8 388.1,505.4 393.4,511.6 399.1,518.7 404.5,525.5 409.8,532.4 415,539.2 420.5,546.5 425.4,553.1 430.4,560.1 435.6,568.2 440,575.7 444,583.3 448.5,591.3 452.7,598.9 457.1,606.9 462.3,613.8 467.6,620.6 472.9,627.3 477.6,632.7 484.3,638.2 489.8,643.4 495.7,648.9 500.9,654.8 510.7,661.8 516.4,667.6 522.4,673 527.8,676.9 535,681.6 542.1,683.9 550.6,685.1 558.2,685.8 565.4,683.5 572.6,680.1 579.9,679.5 586.6,684 591.8,690 597.2,696.5 602.2,702.8 608.3,710 613.9,716.5 619.6,722.3 635.4,732.1 635.4,780 100,780 100,350.2Z" fill="#0060ff"/>
<path d="M156,351.2 161.5,363.8 166.5,370.1 173.3,375.4 180.2,378.6 188.7,380.4 197.3,381.4 205.9,382.3 214.4,383.8 222.9,385.3 232,386.1 239.2,389.5 247.7,392.6 256,395.2 264.3,397.7 273.5,401.4 281.5,404.7 289.2,408.5 297.2,414.3 303.5,419.5 309.8,425.5 316.2,431.9 322.2,438.2 328.7,442.5 334.4,449 340,455.5 345.5,461.6 351.7,467.6 359,472.4 364,478.1 371,485.8 375.8,492.4 381.9,499.2 387.5,505.8 392.9,512 398.6,519.1 403.9,526 409.2,532.8 414.4,539.7 419.9,547 424.8,553.6 429.8,560.7 434.9,568.7 439.2,576.2 443.2,583.9 447.6,591.8 451.8,599.4 456.2,607.4 461.5,614.2 466.8,621 472.2,627.7 477.1,633.2 483.8,638.7 489.5,644 495.3,649.7 500.5,655.7 509.8,662.4 515.6,668.2 521.8,673.6 527.4,677.7 534.6,682.5 541.8,684.8 550.3,685.9 558.1,686.6 565.3,684.1 572.5,680.5 579.8,679.7 586.5,684.2 591.6,690.4 597,697 601.9,703.4 607.8,710.7 613.3,717.3 619,723.1 633.5,732.3 633.5,780 100,780 100,351.2Z" fill="#0040ff"/>
<path d="M156,352.1 161.2,364 166.3,370.3 173.1,375.6 180.2,378.8 188.7,380.5 197.3,381.5 205.9,382.4 214.4,384 222.9,385.5 231.9,386.4 239.2,389.9 247.6,393 255.9,395.7 264.1,398.3 273.2,401.8 281.2,405 289,408.8 296.8,414.5 303.3,419.8 309.6,425.7 316,432.1 322,438.3 328.6,442.6 334.3,449.1 339.9,455.7 345.4,461.9 351.5,467.9 358.7,472.7 363.8,478.5 370.5,486.2 375.3,492.9 381.4,499.6 387.1,506.2 392.5,512.4 398.2,519.5 403.4,526.4 408.7,533.3 413.9,540.2 419.3,547.4 424.3,554.1 429.2,561.2 434.2,569.2 438.5,576.7 442.5,584.4 446.8,592.3 451,599.9 455.3,607.9 460.6,614.7 466.1,621.4 471.6,628.1 476.6,633.7 483.3,639.1 489.1,644.5 494.9,650.4 500,656.5 509.1,663 514.9,668.8 521.2,674.2 527,678.5 534.2,683.3 541.5,685.7 550.1,686.7 558,687.4 565.2,684.7 572.4,680.8 579.8,679.8 586.4,684.3 591.4,690.7 596.7,697.5 601.5,704 607.3,711.3 612.7,718 618.5,723.9 631.7,732.6 631.7,780 100,780 100,352.1Z" fill="#0020ff"/>
<path d="M156,353 160.9,364.2 166,370.6 172.9,375.8 180.1,379 188.7,380.6 197.3,381.6 205.9,382.5 214.4,384.2 222.9,385.8 231.9,386.6 239.2,390.3 247.5,393.5 255.8,396.2 264,398.9 272.9,402.3 281,405.4 288.8,409.2 296.5,414.8 303,420 309.4,425.9 315.8,432.2 321.8,438.4 328.5,442.6 334.1,449.2 339.8,455.9 345.3,462.1 351.3,468.3 358.5,473 363.6,479 369.9,486.6 374.8,493.3 380.9,500 386.6,506.5 392.1,512.9 397.7,519.9 402.9,526.8 408.2,533.7 413.4,540.7 418.7,547.9 423.7,554.6 428.6,561.7 433.5,569.6 437.8,577.2 441.7,584.9 446,592.8 450.2,600.4 454.4,608.3 459.8,615.1 465.3,621.8 470.9,628.4 476.1,634.2 482.9,639.6 488.7,645.1 494.5,651.1 499.6,657.3 508.3,663.5 514.3,669.4 520.6,674.8 526.7,679.2 533.8,684.2 541.3,686.5 549.9,687.5 557.9,688.2 565.2,685.4 572.2,681.2 579.7,679.9 586.3,684.5 591.3,691.1 596.4,697.9 601.2,704.7 606.7,711.9 612.1,718.7 617.9,724.7 630,732.9 630,780 100,780 100,353Z" fill="#0000ff"/>
<path d="M156,353.9 160.5,364.4 165.8,370.8 172.7,376 180.1,379.2 188.6,380.7 197.3,381.7 205.9,382.7 214.4,384.4 222.9,386 231.8,386.9 239.2,390.8 247.4,394 255.6,396.7 263.9,399.4 272.7,402.7 280.8,405.8 288.5,409.6 296.2,415 302.8,420.2 309.2,426.1 315.6,432.3 321.6,438.5 328.4,442.7 334,449.4 339.6,456 345.2,462.4 351.1,468.6 358.3,473.3 363.4,479.4 369.4,487 374.3,493.8 380.4,500.4 386.1,506.9 391.7,513.3 397.2,520.2 402.4,527.2 407.7,534.1 412.8,541.1 418.1,548.3 423.1,555.1 428,562.3 432.8,570.1 437.1,577.7 441,585.4 445.2,593.3 449.3,600.9 453.6,608.8 459,615.5 464.6,622.2 470.2,628.8 475.6,634.7 482.4,640 488.4,645.6 494.1,651.7 499.2,658.2 507.5,664.1 513.6,670 520.1,675.4 526.3,680 533.4,685 541,687.4 549.6,688.3 557.8,689 565.1,686 572.1,681.5 579.6,680.1 586.2,684.7 591.1,691.4 596.2,698.4 600.9,705.3 606.2,712.6 611.5,719.4 617.3,725.5 628.2,733.1 628.2,780 100,780 100,353.9Z" fill="#0000df"/>
<path d="M156,354.8 160.2,364.6 165.5,371 172.5,376.1 180.1,379.3 188.6,380.8 197.3,381.8 205.9,382.8 214.4,384.6 222.9,386.3 231.7,387.2 239.1,391.2 247.3,394.5 255.5,397.3 263.8,400 272.4,403.2 280.5,406.2 288.3,410 295.8,415.3 302.6,420.5 309,426.3 315.3,432.5 321.5,438.7 328.3,442.8 333.9,449.5 339.5,456.2 345.1,462.6 350.9,469 358,473.6 363.2,479.9 368.8,487.3 373.8,494.2 379.8,500.7 385.6,507.3 391.2,513.7 396.7,520.6 402,527.6 407.1,534.6 412.3,541.6 417.5,548.7 422.6,555.6 427.5,562.8 432.1,570.6 436.3,578.1 440.2,585.9 444.3,593.8 448.5,601.4 452.7,609.2 458.2,615.9 463.9,622.5 469.5,629.1 475.1,635.2 482,640.5 488,646.2 493.8,652.4 498.8,659 506.8,664.7 512.9,670.6 519.5,676 526,680.8 533,685.8 540.7,688.3 549.4,689.1 557.7,689.8 565,686.6 572,681.8 579.6,680.2 586.1,684.9 590.9,691.8 595.9,698.8 600.6,705.9 605.7,713.2 611,720.1 616.8,726.3 626.4,733.4 626.4,780 100,780 100,354.8Z" fill="#0000bf"/>
<path d="M156,355.7 159.9,364.7 165.3,371.2 172.3,376.3 180,379.5 188.6,380.9 197.2,382 205.9,382.9 214.4,384.8 222.9,386.6 231.7,387.5 239.1,391.6 247.2,395 255.4,397.8 263.7,400.5 272.1,403.6 280.3,406.6 288.1,410.3 295.5,415.5 302.3,420.7 308.8,426.5 315.1,432.6 321.3,438.8 328.3,442.9 333.8,449.6 339.4,456.3 345,462.9 350.7,469.4 357.8,473.9 363,480.3 368.3,487.7 373.3,494.7 379.3,501.1 385.1,507.6 390.8,514.1 396.3,521 401.5,528 406.6,535 411.8,542 417,549.2 422,556.1 426.9,563.3 431.4,571 435.6,578.6 439.5,586.4 443.5,594.3 447.7,601.9 451.8,609.7 457.4,616.4 463.1,622.9 468.9,629.5 474.6,635.6 481.5,640.9 487.6,646.7 493.4,653.1 498.3,659.9 506,665.2 512.2,671.2 518.9,676.6 525.6,681.5 532.7,686.6 540.5,689.1 549.2,689.9 557.6,690.6 565,687.2 571.9,682.2 579.5,680.3 586,685 590.8,692.1 595.6,699.3 600.3,706.5 605.2,713.9 610.4,720.8 616.2,727.1 624.7,733.6 624.7,780 100,780 100,355.7Z" fill="#00009f"/>
<path d="M156,356.6 159.6,364.9 165,371.4 172.1,376.5 180,379.7 188.6,381 197.2,382.1 205.9,383.1 214.4,385 222.9,386.8 231.6,387.7 239.1,392 247.1,395.4 255.3,398.3 263.6,401.1 271.9,404.1 280.1,407 287.9,410.7 295.1,415.7 302.1,420.9 308.6,426.7 314.9,432.8 321.1,438.9 328.2,443 333.7,449.8 339.3,456.5 344.9,463.1 350.5,469.7 357.6,474.2 362.8,480.7 367.7,488.1 372.8,495.1 378.8,501.5 384.6,508 390.4,514.5 395.8,521.4 401,528.4 406.1,535.4 411.2,542.5 416.4,549.6 421.5,556.6 426.3,563.9 430.7,571.5 434.9,579.1 438.7,587 442.7,594.7 446.8,602.4 451,610.2 456.6,616.8 462.4,623.3 468.2,629.8 474,636.1 481,641.4 487.3,647.3 493,653.8 497.9,660.7 505.2,665.8 511.6,671.8 518.3,677.2 525.2,682.3 532.3,687.4 540.2,690 548.9,690.7 557.5,691.4 564.9,687.8 571.7,682.5 579.5,680.5 585.8,685.2 590.6,692.5 595.4,699.7 600,707.1 604.7,714.5 609.8,721.5 615.7,727.9 622.9,733.9 622.9,780 100,780 100,356.6Z" fill="#00008f"/>
<path d="M979,476 963.2,501.8 960.1,507.6 956.9,513.4 953.6,519.2 950.2,525.7 947.4,531.7 944.5,537.7 941.9,543 938.8,548.9 935.7,554.7 932.7,561.5 930,567.6 927.8,572.2 924.6,578 921.4,583.8 918.2,589.7 915.4,593.1 911.2,598.3 907.5,602.8 901.4,611.1 898.2,616.9 895.1,622.8 892.2,628 889.1,633.8 885.9,639.6 882.7,645.4 879.4,651.2 875.9,657.7 872.9,663.6 869.5,671 867.1,677.2 865.7,680.6 862.2,686.2 859.1,691.3 857.2,693.5 851.5,699.3 847.4,704.4 843.2,709.6 829.3,727.5 829.3,780 1030,780 1030,476Z" fill="#ff6000"/>
<path d="M979,476.9 963.6,502 960.5,507.8 957.2,513.6 954,519.4 950.6,525.9 947.8,531.9 944.9,537.9 942.3,543.2 939.2,549.1 936.1,554.9 933.1,561.6 930.4,567.7 928.2,572.4 925,578.2 921.8,584.1 918.6,589.9 915.8,593.4 911.6,598.6 907.9,603.2 901.9,611.4 898.7,617.2 895.6,623 892.7,628.2 889.6,634.1 886.4,639.9 883.2,645.7 880,651.5 876.5,658 873.5,663.9 870.1,671.2 867.7,677.4 866.2,680.9 862.7,686.5 859.6,691.6 857.6,693.9 852,699.7 847.8,704.8 843.7,710 830.1,727.5 830.1,780 1030,780 1030,476.9Z" fill="#ff8000"/>
<path d="M979,478.2 964.2,502.3 961.1,508.1 957.8,513.9 954.5,519.7 951.2,526.2 948.3,532.2 945.5,538.2 942.9,543.5 939.8,549.4 936.7,555.2 933.7,561.9 931,568 928.7,572.7 925.5,578.6 922.3,584.4 919.1,590.2 916.3,593.8 912.2,599 908.5,603.7 902.6,611.8 899.5,617.6 896.3,623.4 893.5,628.7 890.3,634.5 887.2,640.4 884.1,646.2 880.9,652 877.4,658.5 874.4,664.4 871.1,671.6 868.5,677.7 866.9,681.3 863.4,687 860.3,692 858.2,694.5 852.7,700.2 848.5,705.4 844.4,710.6 831.4,727.5 831.4,780 1030,780 1030,478.2Z" fill="#ff9f00"/>
<path d="M979,479.5 964.8,502.6 961.6,508.4 958.3,514.2 955.1,520 951.7,526.4 948.9,532.4 946.1,538.4 943.4,543.8 940.3,549.7 937.3,555.6 934.3,562.2 931.6,568.3 929.3,573.1 926.1,578.9 922.9,584.7 919.7,590.5 916.9,594.3 912.8,599.5 909.1,604.2 903.4,612.2 900.2,618 897.1,623.8 894.2,629.1 891.1,634.9 888,640.8 884.9,646.7 881.8,652.5 878.3,658.9 875.3,664.8 872,672 869.4,678.1 867.7,681.7 864.2,687.4 861,692.5 858.8,695.1 853.3,700.8 849.3,706 845.2,711.2 832.6,727.5 832.6,780 1030,780 1030,479.5Z" fill="#ffbf00"/>
<path d="M979,480.8 965.4,503 962.2,508.8 958.9,514.5 955.6,520.3 952.3,526.7 949.5,532.7 946.6,538.7 944,544.1 940.9,550 937.9,555.9 934.9,562.5 932.2,568.5 929.8,573.4 926.7,579.2 923.5,585 920.3,590.8 917.4,594.7 913.4,599.9 909.7,604.7 904.1,612.5 901,618.4 897.8,624.2 895,629.5 891.8,635.4 888.8,641.3 885.8,647.1 882.7,653 879.2,659.4 876.2,665.3 872.9,672.3 870.3,678.4 868.4,682.2 864.9,687.8 861.7,692.9 859.4,695.6 854,701.3 850,706.6 845.9,711.8 833.9,727.5 833.9,780 1030,780 1030,480.8Z" fill="#ffdf00"/>
<path d="M979,482.2 966,503.3 962.8,509.1 959.4,514.8 956.2,520.6 952.9,527 950,533 947.2,539 944.5,544.4 941.5,550.3 938.4,556.2 935.5,562.7 932.8,568.8 930.4,573.7 927.2,579.5 924,585.4 920.8,591.1 918,595.1 914,600.4 910.3,605.2 904.9,612.9 901.7,618.8 898.6,624.6 895.7,629.9 892.6,635.8 889.6,641.7 886.6,647.6 883.5,653.5 880.1,659.8 877.1,665.7 873.8,672.7 871.1,678.8 869.2,682.6 865.7,688.2 862.4,693.3 860,696.2 854.7,701.9 850.7,707.2 846.6,712.4 835.1,727.5 835.1,780 1030,780 1030,482.2Z" fill="#ffff00"/>
<path d="M979,483.2 966.5,503.6 963.2,509.3 959.9,515.1 956.6,520.8 953.3,527.2 950.5,533.2 947.7,539.2 945,544.6 942,550.5 938.9,556.4 936,562.9 933.3,569 930.8,574 927.7,579.8 924.5,585.6 921.3,591.4 918.4,595.5 914.4,600.8 910.8,605.6 905.5,613.3 902.3,619.1 899.2,624.9 896.3,630.3 893.2,636.1 890.3,642.1 887.3,648 884.3,653.8 880.9,660.2 877.8,666.1 874.5,673 871.8,679 869.8,683 866.3,688.6 862.9,693.7 860.5,696.7 855.2,702.4 851.2,707.6 847.2,712.9 836.1,727.5 836.1,780 1030,780 1030,483.2Z" fill="#dfff20"/>
<path d="M979,484.1 966.9,503.8 963.6,509.5 960.3,515.3 957,521 953.7,527.4 950.9,533.4 948.1,539.3 945.4,544.8 942.4,550.7 939.3,556.6 936.4,563.1 933.7,569.2 931.2,574.2 928,580 924.9,585.8 921.7,591.6 918.7,595.8 914.8,601.1 911.2,606 906,613.5 902.8,619.4 899.7,625.2 896.8,630.6 893.7,636.4 890.8,642.4 887.8,648.3 884.8,654.2 881.5,660.5 878.4,666.4 875.2,673.3 872.4,679.3 870.3,683.3 866.8,688.9 863.4,694 860.8,697.1 855.7,702.7 851.7,708 847.7,713.3 836.9,727.5 836.9,780 1030,780 1030,484.1Z" fill="#bfff40"/>
<path d="M979,485 967.3,504 964,509.8 960.6,515.5 957.3,521.2 954.1,527.5 951.3,533.5 948.4,539.5 945.8,545 942.7,550.9 939.7,556.8 936.8,563.3 934.1,569.4 931.6,574.4 928.4,580.2 925.3,586 922,591.8 919.1,596 915.2,601.4 911.6,606.3 906.5,613.8 903.3,619.6 900.2,625.4 897.3,630.9 894.2,636.7 891.3,642.7 888.4,648.6 885.4,654.5 882.1,660.8 879,666.7 875.8,673.5 873,679.5 870.8,683.6 867.2,689.2 863.9,694.3 861.2,697.5 856.1,703.1 852.2,708.4 848.2,713.7 837.8,727.5 837.8,780 1030,780 1030,485Z" fill="#9fff60"/>
<path d="M979,485.9 967.7,504.2 964.4,510 961,515.7 957.7,521.4 954.5,527.7 951.7,533.7 948.8,539.7 946.1,545.2 943.1,551.1 940.1,557 937.2,563.5 934.5,569.5 931.9,574.6 928.8,580.4 925.6,586.3 922.4,592 919.5,596.3 915.6,601.7 912,606.7 907,614 903.8,619.9 900.7,625.7 897.8,631.1 894.7,637 891.9,643 889,648.9 886,654.8 882.7,661.1 879.6,667 876.4,673.8 873.5,679.7 871.3,683.9 867.7,689.5 864.3,694.6 861.6,697.9 856.6,703.5 852.6,708.8 848.7,714.1 838.6,727.5 838.6,780 1030,780 1030,485.9Z" fill="#80ff80"/>
<path d="M979,486.8 968.1,504.5 964.8,510.2 961.4,515.9 958,521.6 954.9,527.9 952,533.9 949.2,539.9 946.5,545.4 943.5,551.3 940.5,557.2 937.6,563.7 934.9,569.7 932.3,574.8 929.2,580.7 926,586.5 922.8,592.3 919.8,596.6 916,602 912.4,607 907.5,614.3 904.3,620.1 901.2,626 898.3,631.4 895.2,637.3 892.4,643.3 889.5,649.2 886.6,655.1 883.3,661.4 880.2,667.2 877,674 874.1,679.9 871.8,684.2 868.2,689.8 864.8,694.9 862,698.3 857,703.8 853.1,709.2 849.2,714.5 839.4,727.5 839.4,780 1030,780 1030,486.8Z" fill="#60ff9f"/>
<path d="M979,487.6 968.5,504.7 965.1,510.4 961.7,516.1 958.4,521.8 955.2,528.1 952.4,534.1 949.6,540 946.9,545.6 943.9,551.5 940.9,557.4 938,563.8 935.3,569.9 932.7,575 929.5,580.9 926.4,586.7 923.2,592.5 920.2,596.9 916.4,602.3 912.8,607.4 908,614.6 904.8,620.4 901.7,626.2 898.8,631.7 895.8,637.6 892.9,643.6 890.1,649.5 887.2,655.4 883.9,661.7 880.8,667.5 877.6,674.2 874.7,680.2 872.3,684.5 868.7,690 865.2,695.2 862.4,698.7 857.5,704.2 853.6,709.6 849.7,714.9 840.2,727.5 840.2,780 1030,780 1030,487.6Z" fill="#40ffbf"/>
<path d="M979,488.5 968.9,504.9 965.5,510.6 962.1,516.3 958.8,522 955.6,528.2 952.8,534.2 950,540.2 947.3,545.8 944.3,551.7 941.3,557.6 938.4,564 935.7,570.1 933.1,575.3 929.9,581.1 926.8,586.9 923.5,592.7 920.5,597.2 916.8,602.6 913.2,607.7 908.5,614.8 905.3,620.7 902.2,626.5 899.3,632 896.3,637.9 893.5,643.9 890.7,649.8 887.8,655.8 884.5,662 881.4,667.8 878.2,674.5 875.2,680.4 872.8,684.8 869.2,690.3 865.7,695.5 862.8,699.1 857.9,704.6 854,710 850.2,715.3 841.1,727.5 841.1,780 1030,780 1030,488.5Z" fill="#20ffdf"/>
<path d="M979,489.4 969.3,505.1 965.9,510.8 962.5,516.5 959.1,522.2 956,528.4 953.2,534.4 950.3,540.4 947.6,546 944.7,551.9 941.7,557.8 938.8,564.2 936.1,570.2 933.4,575.5 930.3,581.3 927.2,587.1 923.9,592.9 920.9,597.5 917.1,602.9 913.6,608 909,615.1 905.8,620.9 902.7,626.8 899.8,632.3 896.8,638.1 894,644.1 891.2,650.1 888.4,656.1 885.1,662.3 882,668.1 878.8,674.7 875.8,680.6 873.3,685.1 869.7,690.6 866.2,695.7 863.2,699.5 858.3,705 854.5,710.3 850.7,715.7 841.9,727.5 841.9,780 1030,780 1030,489.4Z" fill="#00ffff"/>
<path d="M979,490.5 969.8,505.4 966.4,511.1 962.9,516.7 959.6,522.4 956.5,528.6 953.7,534.6 950.8,540.6 948.1,546.3 945.1,552.2 942.2,558.1 939.3,564.4 936.6,570.4 933.9,575.7 930.8,581.6 927.6,587.4 924.4,593.2 921.3,597.8 917.6,603.3 914.1,608.5 909.6,615.4 906.5,621.2 903.4,627.1 900.4,632.6 897.4,638.5 894.7,644.5 891.9,650.5 889.1,656.5 885.8,662.6 882.8,668.5 879.6,675 876.5,680.9 873.9,685.4 870.3,691 866.7,696.1 863.7,699.9 858.9,705.4 855.1,710.8 851.3,716.2 842.9,727.5 842.9,780 1030,780 1030,490.5Z" fill="#00dfff"/>
<path d="M979,491.6 970.3,505.7 966.9,511.3 963.4,517 960.1,522.7 957,528.9 954.1,534.8 951.3,540.8 948.6,546.5 945.6,552.4 942.7,558.4 939.8,564.7 937.1,570.7 934.4,576 931.2,581.8 928.1,587.7 924.9,593.4 921.8,598.2 918.1,603.7 914.6,608.9 910.2,615.7 907.1,621.6 904,627.4 901,633 898,638.9 895.4,644.9 892.6,650.9 889.9,656.9 886.6,663 883.6,668.9 880.3,675.4 877.3,681.2 874.6,685.8 871,691.3 867.3,696.5 864.2,700.4 859.5,705.9 855.7,711.3 851.9,716.7 844,727.5 844,780 1030,780 1030,491.6Z" fill="#00bfff"/>
<path d="M979,492.7 970.8,506 967.4,511.6 963.9,517.2 960.5,522.9 957.5,529.1 954.6,535.1 951.8,541.1 949.1,546.8 946.1,552.7 943.2,558.6 940.3,564.9 937.6,570.9 934.8,576.3 931.7,582.1 928.6,588 925.3,593.7 922.3,598.6 918.6,604.1 915.2,609.3 910.9,616.1 907.8,621.9 904.6,627.8 901.7,633.3 898.7,639.2 896,645.3 893.4,651.3 890.6,657.3 887.4,663.4 884.3,669.3 881.1,675.7 878,681.5 875.2,686.2 871.6,691.7 867.9,696.9 864.7,701 860.1,706.4 856.3,711.8 852.5,717.2 845.1,727.5 845.1,780 1030,780 1030,492.7Z" fill="#009fff"/>
<path d="M979,493.9 971.3,506.2 967.8,511.9 964.4,517.5 961,523.2 958,529.3 955.1,535.3 952.3,541.3 949.5,547 946.6,552.9 943.7,558.9 940.9,565.1 938.1,571.1 935.3,576.6 932.2,582.4 929.1,588.2 925.8,594 922.7,598.9 919.1,604.5 915.7,609.8 911.5,616.4 908.4,622.3 905.3,628.1 902.3,633.7 899.3,639.6 896.7,645.7 894.1,651.7 891.4,657.7 888.1,663.8 885.1,669.6 881.9,676 878.7,681.8 875.9,686.6 872.2,692.1 868.5,697.2 865.2,701.5 860.6,706.9 856.9,712.3 853.2,717.8 846.1,727.5 846.1,780 1030,780 1030,493.9Z" fill="#0080ff"/>
<path d="M979,495 971.8,506.5 968.3,512.1 964.8,517.8 961.4,523.4 958.4,529.5 955.6,535.5 952.8,541.5 950,547.3 947.1,553.2 944.2,559.1 941.4,565.3 938.6,571.3 935.8,576.8 932.7,582.7 929.6,588.5 926.3,594.3 923.2,599.3 919.6,604.8 916.2,610.2 912.2,616.8 909,622.6 905.9,628.4 902.9,634.1 900,640 897.4,646 894.8,652.1 892.1,658.1 888.9,664.2 885.9,670 882.7,676.3 879.5,682.1 876.5,687 872.9,692.5 869.1,697.6 865.7,702 861.2,707.4 857.5,712.8 853.8,718.3 847.2,727.5 847.2,780 1030,780 1030,495Z" fill="#0060ff"/>
<path d="M979,496.1 972.3,506.8 968.8,512.4 965.3,518 961.9,523.7 958.9,529.8 956.1,535.7 953.3,541.7 950.5,547.5 947.6,553.5 944.7,559.4 941.9,565.6 939.1,571.6 936.3,577.1 933.2,583 930.1,588.8 926.8,594.5 923.6,599.7 920.1,605.2 916.7,610.7 912.8,617.1 909.7,622.9 906.6,628.8 903.6,634.4 900.6,640.3 898.1,646.4 895.5,652.5 892.9,658.5 889.7,664.5 886.6,670.4 883.5,676.6 880.2,682.3 877.2,687.3 873.5,692.8 869.7,698 866.2,702.5 861.8,707.8 858.1,713.3 854.4,718.8 848.2,727.5 848.2,780 1030,780 1030,496.1Z" fill="#0040ff"/>
<path d="M979,497.2 972.8,507.1 969.3,512.7 965.8,518.3 962.3,523.9 959.4,530 956.6,536 953.7,541.9 951,547.7 948.1,553.7 945.2,559.7 942.4,565.8 939.6,571.8 936.7,577.4 933.6,583.2 930.5,589 927.2,594.8 924.1,600 920.6,605.6 917.2,611.1 913.4,617.4 910.3,623.2 907.2,629.1 904.2,634.8 901.3,640.7 898.7,646.8 896.2,652.9 893.6,658.9 890.4,664.9 887.4,670.8 884.2,676.9 880.9,682.6 877.8,687.7 874.1,693.2 870.3,698.4 866.7,702.9 862.3,708.3 858.7,713.8 855,719.3 849.2,727.5 849.2,780 1030,780 1030,497.2Z" fill="#0020ff"/>
<path d="M979,498.3 973.3,507.3 969.7,512.9 966.2,518.5 962.8,524.1 959.9,530.2 957,536.2 954.2,542.1 951.4,548 948.5,553.9 945.7,559.9 942.9,566 940.1,572 937.2,577.6 934.1,583.5 931,589.3 927.7,595 924.5,600.4 921,606 917.7,611.5 914,617.7 910.9,623.6 907.8,629.4 904.8,635.1 901.9,641 899.4,647.1 896.9,653.3 894.3,659.3 891.1,665.3 888.1,671.1 884.9,677.2 881.6,682.9 878.4,688 874.7,693.5 870.8,698.7 867.2,703.4 862.9,708.7 859.2,714.2 855.6,719.8 850.2,727.5 850.2,780 1030,780 1030,498.3Z" fill="#0000ff"/>
<path d="M979,499.3 973.7,507.6 970.2,513.2 966.6,518.7 963.2,524.4 960.3,530.4 957.5,536.4 954.6,542.3 951.8,548.2 949,554.2 946.2,560.1 943.4,566.2 940.5,572.2 937.6,577.9 934.5,583.7 931.4,589.6 928.2,595.3 924.9,600.7 921.5,606.3 918.1,611.9 914.6,618 911.5,623.9 908.4,629.7 905.4,635.5 902.5,641.4 900,647.5 897.6,653.6 895,659.7 891.9,665.6 888.8,671.5 885.7,677.5 882.3,683.2 879,688.4 875.3,693.9 871.4,699.1 867.6,703.9 863.4,709.2 859.8,714.7 856.2,720.2 851.2,727.5 851.2,780 1030,780 1030,499.3Z" fill="#0000df"/>
<path d="M979,500.4 974.2,507.9 970.6,513.4 967.1,519 963.6,524.6 960.8,530.6 957.9,536.6 955.1,542.6 952.3,548.5 949.5,554.4 946.6,560.4 943.8,566.4 941,572.4 938,578.1 935,584 931.9,589.8 928.6,595.6 925.4,601 922,606.7 918.6,612.3 915.2,618.3 912.1,624.2 909,630 906,635.8 903.1,641.7 900.7,647.9 898.2,654 895.7,660.1 892.6,666 889.5,671.8 886.4,677.8 883,683.4 879.6,688.8 875.9,694.2 871.9,699.4 868.1,704.3 863.9,709.6 860.3,715.2 856.8,720.7 852.2,727.5 852.2,780 1030,780 1030,500.4Z" fill="#0000bf"/>
<path d="M979,501.4 974.7,508.1 971.1,513.7 967.5,519.2 964.1,524.8 961.2,530.8 958.4,536.8 955.6,542.8 952.7,548.7 949.9,554.7 947.1,560.6 944.3,566.7 941.5,572.6 938.5,578.4 935.4,584.2 932.3,590.1 929.1,595.8 925.8,601.4 922.4,607.1 919.1,612.7 915.8,618.7 912.7,624.5 909.6,630.3 906.6,636.1 903.7,642.1 901.3,648.2 898.9,654.4 896.4,660.5 893.3,666.3 890.2,672.2 887.1,678.1 883.6,683.7 880.2,689.1 876.5,694.6 872.5,699.8 868.6,704.8 864.5,710.1 860.9,715.6 857.3,721.2 853.2,727.5 853.2,780 1030,780 1030,501.4Z" fill="#00009f"/>
<path d="M979,502.5 975.2,508.4 971.6,513.9 968,519.5 964.5,525.1 961.7,531.1 958.8,537 956,543 953.2,548.9 950.4,554.9 947.6,560.9 944.8,566.9 942,572.8 938.9,578.7 935.9,584.5 932.8,590.3 929.5,596.1 926.2,601.7 922.9,607.4 919.6,613.1 916.4,619 913.3,624.8 910.2,630.6 907.1,636.5 904.3,642.4 901.9,648.6 899.6,654.7 897.1,660.8 894,666.7 890.9,672.5 887.9,678.4 884.3,684 880.8,689.5 877,694.9 873,700.1 869,705.3 865,710.5 861.5,716.1 857.9,721.7 854.2,727.5 854.2,780 1030,780 1030,502.5Z" fill="#00008f"/>
<path d="M650,106 673.2,126.5 680.6,130.9 688,135.4 694.8,139.5 705.3,144.1 712.8,146.9 720.7,150.3 728.7,153.7 736.7,157 744.7,160.2 755.2,162.9 763.7,164.7 772.2,166.3 779,168.4 786.6,171 793.7,174.4 800.8,178 808.8,182.8 815.9,186.3 826,190.1 836.5,192.6 845.1,193.5 853,194.6 860.8,195.9 869.3,197.4 877.1,198.7 883.6,201.7 891.2,205.9 910,218 1000,218 1000,90 650,90Z" fill="#ff1000"/>
<path d="M653,106 674.2,124.8 681.5,129.4 688.8,134.1 695.6,138.2 705.9,142.7 713.3,145.7 721.3,149 729.2,152.4 737.2,155.7 745.2,158.9 755.5,161.5 763.9,163.4 772.4,165.1 779.4,167.4 786.9,170 794.1,173.5 801.2,177.2 809.3,181.8 816.5,185.3 826.4,188.9 836.6,191.3 845.2,192.2 853.1,193.4 861,194.8 869.5,196.5 877.3,198.1 883.9,201.2 891.4,205.5 908.9,216.7 1000,216.7 1000,90 653,90Z" fill="#ff3000"/>
<path d="M657,106 675.7,122.5 682.8,127.3 689.8,132.2 696.8,136.4 706.5,140.8 714,143.9 722,147.3 729.9,150.6 737.9,153.9 746,157 755.8,159.7 764.2,161.7 772.6,163.6 779.8,165.9 787.4,168.7 794.7,172.3 801.9,176.1 809.8,180.6 817.2,184 826.8,187.2 836.8,189.4 845.4,190.3 853.3,191.7 861.3,193.3 869.7,195.2 877.4,197.3 884.2,200.6 891.7,204.9 907.3,215 1000,215 1000,90 657,90Z" fill="#ff5000"/>
<path d="M661,106 677.1,120.2 684,125.3 690.8,130.5 697.9,134.7 707.2,138.9 714.7,142.2 722.7,145.6 730.6,148.9 738.6,152.2 746.7,155.3 756.2,157.9 764.5,160 772.9,162 780.3,164.6 787.9,167.5 795.3,171.1 802.5,175.1 810.4,179.4 817.9,182.7 827.3,185.6 836.9,187.6 845.5,188.5 853.5,190.1 861.5,191.9 869.8,194 877.6,196.5 884.5,199.9 891.9,204.4 905.8,213.4 1000,213.4 1000,90 661,90Z" fill="#ff7000"/>
<path d="M664.1,106 678.2,118.4 685,123.7 691.6,129.1 698.7,133.3 707.7,137.4 715.3,140.8 723.2,144.2 731.2,147.5 739.2,150.8 747.2,153.8 756.5,156.4 764.8,158.6 773.1,160.8 780.6,163.4 788.3,166.4 795.7,170.2 803,174.2 810.9,178.4 818.4,181.7 827.6,184.3 837,186.2 845.6,187.1 853.7,188.8 861.7,190.8 870,193 877.7,195.8 884.8,199.4 892.1,203.9 904.6,212 1000,212 1000,90 664.1,90Z" fill="#ff8f00"/>
<path d="M667.3,106 679.4,116.6 685.9,122.1 692.5,127.6 699.6,131.8 708.3,135.9 715.9,139.5 723.8,142.9 731.8,146.1 739.7,149.4 747.8,152.4 756.8,155 765,157.3 773.3,159.6 781,162.3 788.7,165.4 796.2,169.2 803.4,173.4 811.3,177.4 819,180.6 828,183 837.1,184.7 845.7,185.6 853.9,187.4 861.9,189.6 870.2,192 877.8,195.2 885,198.9 892.3,203.5 903.3,210.7 1000,210.7 1000,90 667.3,90Z" fill="#ffaf00"/>
<path d="M670.5,106 680.5,114.8 686.9,120.5 693.3,126.2 700.5,130.4 708.8,134.4 716.4,138.1 724.3,141.5 732.3,144.7 740.3,148 748.3,151 757,153.5 765.3,155.9 773.5,158.4 781.3,161.2 789.1,164.4 796.6,168.3 803.9,172.5 811.8,176.4 819.6,179.6 828.3,181.7 837.3,183.3 845.8,184.2 854,186.1 862.1,188.5 870.3,191 877.9,194.5 885.3,198.4 892.5,203 902.1,209.3 1000,209.3 1000,90 670.5,90Z" fill="#ffcf00"/>
<path d="M673.7,106 681.6,113 687.9,118.8 694.1,124.8 701.4,129 709.4,132.9 717,136.7 724.9,140.1 732.9,143.3 740.9,146.5 748.9,149.5 757.3,152 765.5,154.6 773.7,157.1 781.7,160.1 789.5,163.4 797.1,167.3 804.4,171.7 812.2,175.4 820.1,178.6 828.7,180.4 837.4,181.8 845.9,182.7 854.2,184.8 862.3,187.3 870.5,190 878.1,193.8 885.5,197.8 892.7,202.6 900.9,208 1000,208 1000,90 673.7,90Z" fill="#ffef00"/>
<path d="M676,106 688.8,117.8 694.1,123.1 703.2,128.5 709.9,131.9 716,135 724,138.6 730.9,141.4 737.9,144.1 744.8,146.9 753.1,149.6 760.3,151.8 767.5,154.1 774,156.3 781,158.9 787.4,161.4 794,164.9 800.1,168.1 807.5,172.6 814.5,175.5 824,178.5 831.3,179.9 840,181 846.8,181.7 853.4,183.6 860,185.6 867.1,188 872.8,190.5 879.4,194 900,207 1000,207 1000,90 676,90Z" fill="#ffff00"/>
<path d="M677,106.1 689.3,117.4 694.6,122.7 703.4,128 710.1,131.3 716.4,134.4 724.3,137.8 731.3,140.5 738.2,143.2 745.2,146 753.4,148.7 760.6,150.9 767.7,153.3 774.3,155.5 781.2,158.2 787.7,160.8 794.3,164.3 800.5,167.5 807.9,171.9 814.8,174.6 824.2,177.5 831.5,179 840.1,180.1 847,180.9 853.6,182.8 860.2,184.9 867.3,187.3 873.1,189.8 879.7,193.4 899.2,205.6 1000,205.6 1000,90 677,90Z" fill="#dfff20"/>
<path d="M678.4,106.2 689.8,116.9 695.2,122.1 703.7,127.3 710.5,130.6 716.8,133.5 724.7,136.8 731.7,139.4 738.7,142.1 745.7,144.8 753.8,147.5 761,149.7 768.1,152.2 774.6,154.6 781.6,157.4 788,160.1 794.7,163.6 800.9,166.7 808.3,170.9 815.3,173.5 824.4,176.3 831.8,177.8 840.2,179 847.1,179.9 853.9,181.8 860.6,183.9 867.6,186.4 873.6,189 880.2,192.6 898.2,203.9 1000,203.9 1000,90 678.4,90Z" fill="#bfff40"/>
<path d="M679.7,106.3 690.4,116.3 695.9,121.4 704.1,126.5 710.8,129.9 717.3,132.7 725,135.8 732.1,138.3 739.2,140.9 746.2,143.6 754.2,146.2 761.3,148.6 768.4,151.1 775,153.6 781.9,156.5 788.3,159.4 795,162.9 801.4,166 808.7,169.8 815.8,172.4 824.7,175.1 832,176.6 840.3,177.8 847.3,178.8 854.1,180.8 860.9,182.9 868,185.4 874,188.1 880.6,191.7 897.1,202.1 1000,202.1 1000,90 679.7,90Z" fill="#9fff60"/>
<path d="M681.1,106.4 691,115.7 696.5,120.8 704.4,125.8 711.1,129.1 717.7,131.9 725.4,134.8 732.5,137.2 739.6,139.7 746.7,142.4 754.5,145 761.7,147.4 768.7,150 775.4,152.6 782.2,155.7 788.6,158.7 795.4,162.1 801.8,165.2 809.2,168.8 816.3,171.3 824.9,173.8 832.3,175.4 840.5,176.6 847.5,177.7 854.4,179.7 861.2,181.9 868.3,184.5 874.4,187.2 881,190.9 896.1,200.3 1000,200.3 1000,90 681.1,90Z" fill="#80ff80"/>
<path d="M682.5,106.5 691.5,115.2 697.1,120.2 704.7,125.1 711.5,128.4 718.2,131 725.8,133.8 733,136.1 740.1,138.6 747.2,141.2 754.9,143.8 762,146.2 769.1,148.9 775.7,151.7 782.5,154.8 789,158 795.7,161.4 802.3,164.5 809.6,167.8 816.8,170.2 825.2,172.6 832.5,174.2 840.6,175.5 847.7,176.7 854.7,178.7 861.5,181 868.6,183.6 874.9,186.4 881.4,190.1 895,198.6 1000,198.6 1000,90 682.5,90Z" fill="#60ff9f"/>
<path d="M683.8,106.6 692.1,114.6 697.7,119.6 705.1,124.4 711.8,127.7 718.6,130.2 726.2,132.8 733.4,135 740.6,137.4 747.7,139.9 755.3,142.5 762.4,145.1 769.4,147.8 776.1,150.7 782.9,154 789.3,157.3 796.1,160.7 802.7,163.7 810,166.8 817.2,169 825.4,171.3 832.8,173 840.7,174.3 847.9,175.6 854.9,177.7 861.8,180 868.9,182.6 875.3,185.5 881.9,189.3 894,196.8 1000,196.8 1000,90 683.8,90Z" fill="#40ffbf"/>
<path d="M685.2,106.7 692.7,114.1 698.4,119 705.4,123.7 712.1,126.9 719.1,129.4 726.6,131.8 733.8,133.9 741,136.2 748.1,138.7 755.6,141.3 762.7,143.9 769.7,146.7 776.4,149.8 783.2,153.2 789.6,156.6 796.4,160 803.2,162.9 810.5,165.8 817.7,167.9 825.7,170.1 833.1,171.8 840.9,173.2 848.1,174.6 855.2,176.7 862.2,179 869.2,181.7 875.8,184.6 882.3,188.4 893,195 1000,195 1000,90 685.2,90Z" fill="#20ffdf"/>
<path d="M686.5,106.8 693.2,113.5 699,118.4 705.7,122.9 712.5,126.2 719.5,128.5 727,130.8 734.3,132.8 741.5,135.1 748.6,137.5 756,140.1 763.1,142.7 770.1,145.6 776.8,148.8 783.5,152.3 790,155.9 796.8,159.3 803.6,162.2 810.9,164.8 818.2,166.8 826,168.9 833.3,170.6 841,172 848.3,173.5 855.4,175.6 862.5,178 869.5,180.8 876.2,183.8 882.7,187.6 891.9,193.2 1000,193.2 1000,90 686.5,90Z" fill="#00ffff"/>
<path d="M687.9,106.9 693.8,112.9 699.6,117.7 706.1,122.2 712.8,125.4 720,127.7 727.4,129.8 734.7,131.7 741.9,133.9 749.1,136.3 756.4,138.8 763.4,141.6 770.4,144.6 777.2,147.8 783.8,151.5 790.3,155.2 797.1,158.6 804.1,161.4 811.3,163.8 818.7,165.7 826.2,167.6 833.6,169.4 841.1,170.9 848.5,172.5 855.7,174.6 862.8,177 869.8,179.8 876.6,182.9 883.1,186.8 890.9,191.5 1000,191.5 1000,90 687.9,90Z" fill="#00dfff"/>
<path d="M689,107 698.5,116.1 704.4,120.2 713.6,125 721,127.2 728.5,129.1 736,131 741.8,132.7 749.1,135.1 755.4,137.3 762.5,140.1 768.7,142.6 775.6,146.1 781.4,149.2 787.6,152.9 795.8,157.3 802.4,160 810.8,162.7 818.3,164.6 825.3,166.3 832.8,168.2 840.9,169.8 847.3,171.2 854.2,173.3 860.5,175.2 867.7,178.1 874.9,180.9 880.1,184 880.1,184 890,190 1000,190 1000,90 689,90Z" fill="#00cfff"/>
<path d="M690.2,107.1 699,115.5 704.8,119.6 713.8,124.3 721.2,126.4 728.7,128.2 736.2,130 742.1,131.7 749.5,134 755.8,136.2 763,139.1 769.1,141.7 776,145.2 781.8,148.4 788,152.2 796.1,156.6 802.7,159.3 811,161.8 818.5,163.6 825.5,165.2 833,167.1 841.1,168.8 847.6,170.3 854.5,172.3 860.9,174.3 868,177.2 875.2,180.1 880.5,183.3 880.5,183.3 889.1,188.4 1000,188.4 1000,90 690.2,90Z" fill="#00afff"/>
<path d="M692.1,107.2 699.6,114.5 705.4,118.8 714.1,123.2 721.5,125.2 729,126.8 736.5,128.4 742.7,130.1 750.1,132.4 756.5,134.6 763.6,137.6 769.8,140.3 776.6,144 782.5,147.4 788.5,151.3 796.4,155.6 803.2,158.2 811.4,160.5 818.9,162 826,163.5 833.4,165.5 841.4,167.3 848,168.9 854.9,171 861.4,173.1 868.5,176 875.6,178.9 881.1,182.2 881,182.1 887.6,186 1000,186 1000,90 692.1,90Z" fill="#008fff"/>
<path d="M693.9,107.4 700.2,113.5 706.1,117.9 714.4,122.2 721.9,124 729.4,125.4 736.9,126.9 743.3,128.5 750.6,130.7 757.2,133 764.2,136 770.5,139 777.2,142.7 783.1,146.3 789.1,150.4 796.8,154.6 803.7,157.2 811.7,159.2 819.2,160.5 826.4,161.9 833.8,163.8 841.7,165.7 848.4,167.5 855.4,169.6 862,171.8 869,174.7 876.1,177.7 881.8,181.1 881.6,181 886.2,183.6 1000,183.6 1000,90 693.9,90Z" fill="#0070ff"/>
<path d="M695.8,107.5 700.8,112.5 706.7,117 714.8,121.1 722.2,122.8 729.7,124 737.3,125.4 743.8,126.9 751.2,129 757.9,131.4 764.8,134.5 771.2,137.6 777.8,141.4 783.7,145.2 789.7,149.5 797.2,153.5 804.1,156.1 812.1,157.9 819.6,159 826.8,160.2 834.3,162.2 842,164.2 848.8,166.1 855.8,168.2 862.5,170.5 869.6,173.5 876.6,176.5 882.4,179.9 882.2,179.8 884.8,181.2 1000,181.2 1000,90 695.8,90Z" fill="#0050ff"/>
<path d="M697.6,107.7 701.4,111.6 707.3,116.1 715.1,120.1 722.5,121.7 730.1,122.6 737.6,123.8 744.4,125.3 751.8,127.3 758.5,129.8 765.5,133 771.9,136.2 778.4,140.2 784.3,144.2 790.3,148.5 797.6,152.5 804.6,155.1 812.4,156.6 820,157.4 827.3,158.6 834.7,160.6 842.3,162.6 849.2,164.7 856.2,166.9 863,169.2 870.1,172.2 877.1,175.3 883.1,178.8 882.8,178.7 883.4,178.7 1000,178.7 1000,90 697.6,90Z" fill="#0030ff"/>
<path d="M699.5,107.8 702.1,110.6 707.9,115.2 715.4,119 722.9,120.5 730.4,121.3 738,122.3 745,123.7 752.3,125.7 759.2,128.1 766.1,131.4 772.5,134.9 779,138.9 785,143.1 790.9,147.6 798,151.5 805,154 812.8,155.3 820.3,155.9 827.7,156.9 835.1,159 842.6,161.1 849.5,163.2 856.7,165.5 863.6,167.9 870.6,171 877.5,174.1 883.7,177.7 883.4,177.5 882,176.3 1000,176.3 1000,90 699.5,90Z" fill="#0010ff"/>
<path d="M701.3,107.9 702.7,109.6 708.5,114.3 715.7,117.9 723.2,119.3 730.8,119.9 738.3,120.8 745.5,122.1 752.9,124 759.9,126.5 766.7,129.9 773.2,133.5 779.6,137.6 785.6,142 791.5,146.7 798.4,150.5 805.5,153 813.1,153.9 820.7,154.4 828.1,155.3 835.5,157.3 842.9,159.6 849.9,161.8 857.1,164.1 864.1,166.6 871.1,169.7 878,172.9 884.3,176.6 884,176.4 880.5,173.9 1000,173.9 1000,90 701.3,90Z" fill="#0000ef"/>
<path d="M703.1,108.1 703.3,108.7 709.1,113.4 716,116.9 723.5,118.1 731.1,118.5 738.7,119.2 746.1,120.5 753.5,122.3 760.6,124.9 767.4,128.4 773.9,132.1 780.3,136.3 786.2,141 792.1,145.8 798.8,149.5 805.9,151.9 813.4,152.6 821,152.9 828.6,153.6 835.9,155.7 843.2,158 850.3,160.4 857.5,162.8 864.7,165.3 871.6,168.4 878.5,171.7 885,175.5 884.6,175.2 879.1,171.5 1000,171.5 1000,90 703.1,90Z" fill="#0000df"/>
<path d="M156,165 170,165 175,154.5 189,154.5 195,144 216,144 221,133.5 249,133.5 254,123 295,123 299,113" fill="none" stroke="#0030ff" stroke-width="1"/>
<path d="M631.3,727 854.7,727" fill="none" stroke="#00a0ff" stroke-width="1"/>
<path d="M513.3,673.5 583,673.5" fill="none" stroke="#0060ff" stroke-width="1"/>
<path d="M906.7,218.5 913.3,228.3 928.9,254.9 948.9,286.1 965.6,312.7 974.4,346 979,353.8" fill="none" stroke="#20c0ff" stroke-width="1"/>
</g></g>
<g clip-path="url(#ax)" fill="none" stroke="#000" stroke-width="2" stroke-linejoin="round" stroke-linecap="round">
<path d="M499.3,387.6 501.2,390.2 501.9,395 502.6,402.4 500.6,406.7 498.6,406.7 500.6,399.3 499.3,396.6 494.7,396.6 486.8,394.2 487.4,399.3 489.4,405.6 491.4,412 491.4,416.8 491.7,424.7 491,434.2 490.4,443.8 488.1,452.8 490.1,461.8 490.7,469.2 489.1,478.2 492.7,486.2 493.3,494.7 498,502.1 501.2,506.3 501.9,512.7 505.2,519 509.1,528.6 513.1,534.4 513.7,540.8 521,542.4 527.5,546.6 528.9,549.8 534.1,554 536.4,562 539.4,572 544,583.7 546,591.1 552.5,599.6 555.8,607 556.5,613.4 550.6,612.3 555.2,619.7 560.4,624 565.7,629.3 569,637.8 569.6,646.2 574.2,649.4 580.2,657.9 583.4,664.3 587.1,662.1 586.7,656.8 581.5,650.5 578.8,646.2 576.9,636.7 574.2,628.2 570.3,620.8 565.7,613.4 563.7,604.9 559.8,596.4 554.5,587.9 552.5,578.4 551.9,570.5 560.4,574.2 563.7,580.5 567.7,593.2 572.9,603.8 577.5,611.3 583.4,619.7 587.4,627.2 588,635.6 594.6,640.9 598.6,648.4 605.1,657.9 609.7,665.3 612.4,673.8 615,681.2 612.4,689.7 614.3,696.1 619.6,703.5 625.5,710.9 634.7,717.3 641.3,722.6 649.2,727.9 657.7,733.2 667.6,738.5 675.5,740.6 682.1,735.3 686.7,735.3 691.9,740.6 699.8,752.2 705.8,759.7 713.6,761.8 721.5,766 729.4,767.1 731.4,769.2 736.7,777.7 741.9,787.2 743.2,791.5 742.6,798.9 746.5,802.1 749.2,801"/>
<path d="M667.9,631.9 666.3,622.9 667,614.4 670.2,607 676.8,602.8 683.4,595.4 690,592.2 695.2,591.6 701.8,593.8 706.4,596.4 713,598.5 718.9,599.6 720.5,596.4 717.6,590.1 719.6,585.8 724.8,585.3 728.8,584.8 733.4,585.3 739.3,584.8 743.2,587.9 745.9,592.2 752.4,588.5 757,591.1 761,598.5 763,606 763,613.4 766.3,621.9 768.9,630.3 772.8,638.8 774.8,640.4 778.1,639.9 780.1,633.5 780.4,621.9 777.4,610.2 776.8,603.8 774.1,596.4 771.5,585.8 771.5,578.4 773.5,568.9 776.8,564.6 781.4,560.4 786,555.1 788.6,548.7 793.9,547.7 797.2,542.4 802.4,539.2 805.1,536 810,533.4 808.7,523.3 807,515.9 805.1,514.8 805.1,508.4 804.4,504.2 803.7,498.9 803.7,491.5 806.4,489.4 806.4,497.8 807.7,505.3 807.4,513.2 809.7,508.4 812.9,501 812.9,495.7 810.3,489.4 814.3,494.1 817.5,488.3 820.2,479.8 818.9,476.6 820.8,476.6 828.7,474.5 834,471.9 827.4,472.9 822.1,473.5 827.4,469.8 834,469.2 837.3,467.1 838.6,467.1 842.5,466 846.5,465 846.8,462.3 843.2,463.9 841.9,459.7 840.6,456.5 841.2,452.3 843.2,447 845.2,443.8 850.4,441.1 854.4,437.4 859.6,436.4 864.9,433.7 866.2,431.1 865.6,428.4"/>
<path d="M667.9,631.9 665,642 663.7,652.6 663.7,665.3 666.3,679.1 671.6,695 674.8,704.5 678.8,708.8 684.7,714.1 691.9,712 699.8,709.8 705.1,710.9 709,703.5 711.7,695 712.3,684.4 721.5,681.2 728.1,678 734,678.6 736,682.3 732.1,692.9 730.7,701.4 729.4,713 726.8,713 726.1,718.3 726.1,727.9 722.2,738.5 726.8,740.6 731.4,739.5 738,739.5 744.6,738.5 751.1,739.5 758.4,744.8 759,752.2 757.7,761.8 757,773.4 756.4,783 756.4,791.5 759,797.8 763,805.2"/>
<path d="M748.2,675.4 752.4,672.7 759,664.3 765.6,661.1 772.8,662.1 778.7,664.3 785.3,669.6 792.6,670.6 799.1,677 805.7,682.3 809.7,686.5 816.2,690.8 819.2,692.9 818.2,694.5 811.6,696.1 803.7,695.5 795.8,696.6 799.1,688.6 793.2,687 789.9,679.1 782,677 775.5,673.3 768.9,671.7 766.3,666.9 759.7,670.6 754.4,674.9 748.2,675.4"/>
<path d="M817.2,712.5 822.8,710.9 829.4,713 831.4,709.3 828.1,704.5 824.1,698.2 828.7,696.1 835.3,696.6 841.9,697.1 847.1,699.2 849.1,704.5 854.4,705.6 857.3,709.8 855,714.1 849.1,712 844.5,713.5 839.9,714.1 837.3,719.9 834.6,716.2 830.7,714.1 824.1,714.1 817.2,712.5"/>
<path d="M791.6,712.5 797.2,710.9 801.1,712 805.7,716.2 801.1,717.8 795.8,717.8 791.6,712.5"/>
<path d="M864.9,710.9 872.8,711.4 875.4,713.5 872.8,716.5 864.9,716.5 864.9,710.9"/>
<path d="M835.3,696.6 835,705.6 835.3,713 835,715.7"/>
<path d="M699.8,752.2 701.2,746.9 703.8,736.9 712,736.3 705.8,724.1 708.4,724.1 708.4,718.3 720.5,718.3 720.5,738.5 722.2,738.5"/>
<path d="M720.5,718.3 726.1,718.3"/>
<path d="M726.1,710.9 720.5,716.7"/>
<path d="M713.6,761.8 718.9,754.4 720.5,751.2 724.8,759.1 729.8,764.4 729.4,767.1"/>
<path d="M720.5,751.2 720.2,746.9 726.8,740.6"/>
<path d="M731.4,769.2 736.7,766 740.6,758.6 747.8,751.2 754.4,750.6 759.7,748"/>
<path d="M743.2,789.3 748.5,790.4 754.4,792.5 756.7,791.5"/>
<path d="M809.7,802.1 810.3,794.6 814.3,789.9 818.9,787.2 824.8,787.2 831.4,780.9 835.3,775 838.6,776.6 837.3,781.9 834,784 836,790.9 835.3,802.1"/>
<path d="M838.6,802.1 836.6,791.5 839.9,788.3 845.2,786.2 847.8,784.6 846.5,778.2 848.5,779.8 849.1,785.1 854.4,786.2 857.7,791.5 860.3,795.7 866.2,795.2 871.5,794.6 877.4,802.1"/>
<path d="M837.3,781.9 832,789.3 827.4,796.8 828.1,802.1"/>
<path d="M701.2,411.4 708.4,409.9 712.3,413 718.2,410.9 724.8,406.7 729.4,404 726.8,408.8 724.8,410.9 731.4,414.1 738,414.6 744.6,412 748.5,414.1 751.1,414.1 750.5,408.8 747.8,402.4 742.6,398.7 738,390.8 728.1,388.7 724.2,392.9 719.6,398.2 715,400.3 709.7,405.6 701.2,411.4"/>
<path d="M731.4,465 729.4,456.5 729.4,445.9 731.4,436.4 728.1,434.8 728.8,431.1 732.7,427.9 734.7,422.6 739.3,420.5 744.6,418.3 749.2,421.5 747.8,425.8 744.6,430 743.9,432.1 739.9,433.2 738,443.8 739.3,453.3 737.3,460.7 734.7,465 731.4,465"/>
<path d="M749.5,421.5 754.4,419.4 757.7,419.4 764.3,419.4 770.2,419.4 775.5,420.5 780.1,425.8 782,432.1 780.1,435.3 774.1,433.2 772.2,427.9 769.5,427.9 769.5,437.4 769.5,445.9 764.9,451.2 763.6,444.8 761.6,440.6 758.4,441.7 755.1,443.8 757.7,437.4 759,430 757,426.3 752.4,423.1 749.5,421.5"/>
<path d="M758.4,464.4 763,467.1 769.5,467.1 774.1,463.4 780.7,459.7 788,452.8 782,452.8 777.4,455.4 772.2,454.9 767.6,459.1 764.3,461.8 760.3,461.3 758.4,464.4"/>
<path d="M764.9,451.2 764.3,455.4 760.3,461.3"/>
<path d="M782,448 787.3,448.3 793.9,447.3 800.4,448.2 805.7,445.4 805.7,439.5 803.1,438.5 797.2,441.1 790.6,441.7 785.3,444.8 782,448"/>
<path d="M805.1,438.5 811.6,431.6 815.6,430 823.5,424.7 830,416.2 838.6,410.4 845.2,403.5"/>
<path d="M751.1,414.1 753.8,416.2 755.1,418.9"/>
<path d="M380.9,168.7 380.9,267.8 392.1,269.9 402.6,282.7 409.2,276.3 415.8,273.1 419,278.4 429.6,288 439.4,307 451.3,312.3 451.9,321.9"/>
<path d="M536.4,562 552.4,560.2 551.9,562.5 576.5,574.9 595.3,574.9 595.3,570.1 606.3,570.1 616.3,582.1 620.3,593.8 628.2,599.6 633.4,591.1 640,591.4 647.2,607 652.5,615.5 655.1,627.2 661,630.9 667.9,631.9"/>
<path d="M865.6,428.4 860.9,422.6 860.9,408.1 857.7,405.1 853.1,404.6 851.4,404 846.5,412 844.5,420.5 840.9,426.8 836.6,430"/>
<path d="M356,164.7 339.3,161.7 329.3,160 316,160.3 306,156.7 299.3,154.7 289.3,154.2 284.3,156.7 280.2,151.7 276,150.8 269.3,153.3 257.7,155.8 254.3,160 242.7,162.5 236,166.7 231,173.3 222.7,175.8 212.7,179.2 210.2,182.5 219.3,185.8 226,188.3 231,193.3 241,196.7 246,200 256,203 251,205 242.7,202.5 236,204.2 229.3,201.7 226,200.8 217.7,204.2 209.3,208.3 202.7,210.8 204.3,213.3 212.7,214.2 216,216.7 212.7,219.2 212.7,222.5 219.3,223.3 229.3,223.3 237.7,223.3 242.7,220 247.7,219.2 250.2,222.5 246.8,225.8 250.2,230 248.5,233.3 241,234.2 236,237.5 227.7,238.3 222.7,244.2 218.5,249.2 216,253.3 216.8,258.3 222.7,260 224.3,264.2 221.8,266.7 226,271.7 231,273.3 237.7,271.7 241.8,273.3 242.7,280 246,284.2 254.3,282.5 262.7,285 266,282.5 269.3,285 274.3,285"/>
<path d="M156,196.7 162.7,195.8 169.3,197.5 177.7,197.5 182.7,201.7 186.8,205 191,207.5 186,208.3 182.7,210.8 179.3,210 172.7,212.5 171.8,216.7 169.3,218.3 168.5,223.3 162.7,221.7 157.7,220.8 156,220"/>
<path d="M156,203.3 161,203.3 163.5,200.8 161,198.3 156,198.7"/>
<path d="M176.8,232.5 181,231.7 189.3,233.3 196,236.7 191,238.3 186,236.7 179.3,235 176.8,232.5"/>
<path d="M207.7,268.3 212.7,267.5 216.8,269.2 215.2,272.5 210.2,272.5 207.7,268.3"/>
<path d="M226,263.3 228,261.3 230.2,262.5 229.7,265 227.3,265.3 226,263.3"/>
<path d="M245,283.3 250,285 255,282.5 260,283.3 263.3,286.7 265.8,283.3 270,285 275,284.2 272.5,288.3 271.7,293.3 268.3,298.3 263.3,303.3 258.3,306.7 255,310 251.7,313.3 246.7,316.7 241.7,320 235,323.3 228.3,326.7 223.3,330.8 225,331.7 230,328.3 236.7,325 241.7,322.5 248.3,318.3 255,315.8 261.7,312.5 266.7,308.3 273.3,305 278.3,302.5 280,297.5 285,295 290,291.7 295,289.2 298.3,285 296.7,281.7 293.3,280 296.7,275.8 301.7,272.5 305,267.5 310,263.3 315,259.2 318.3,257.5 323.3,259.2 326.7,261.7 321.7,261.7 316.7,263.3 313.3,266.7 310.8,271.7 310,276.7 309.2,280.8 313.3,279.2 316.7,275.8 321.7,273.3 326.7,270.8 331.7,270.8 333.3,267.5 330.8,263.3 333.3,260 338.3,260.8 343.3,262.5 348.3,265 353.3,267.5 356.7,266.7 358.3,270 365,270.8 371.7,270.8 378.3,270 385,273.3 390,275.8"/>
<path d="M293.3,296.7 296.7,294.2 300,295 303.3,291.7 305,288.3 306.7,290 305,293.3 303.3,297.5 300,299.2 298.3,302.5 294.2,303.3 291.7,300 293.3,296.7"/>
<path d="M209.2,335.8 214.2,335 212.5,340 210,340 209.2,335.8"/>
<path d="M224.2,330 227.5,326.7 231.7,325.8 229.2,329.2 225.8,331.7 224.2,330"/>
<path d="M370,271.3 380.7,272.2 389.6,273.1 394.9,275.8 400.2,276.7 405.6,280.2 409.1,278.4 414.4,276.7 418,278.4 421.6,283.8 426.9,289.1 432.2,296.2 437.6,301.6 442.9,306.9 448.2,312.2 450.9,316.7 453.6,321.1 452.7,328.2 450.9,335.3 450,340.7 453.6,344.2 457.1,338.9 460.7,340.7 458.9,346 462.4,349.6 467.8,347.8 472.2,351.3 468.7,354.9 466,358.4 467.8,363.8 473.1,367.3 476.7,365.6 482,369.1 486.4,372.7 487.3,378 492.7,379.8 497.1,382.4 498,388.7 501.6,392.2 502.4,401.1 499.8,406.4 498,410"/>
<path d="M410.9,285.6 414.4,290.9 412.7,294.4 418,298 419.8,303.3 423.3,301.6 426.9,306.9 430.4,312.2 434,317.6 439.3,321.1 442.9,319.3 441.1,314 437.6,310.4 434,305.1 430.4,299.8 426.9,296.2 423.3,290.9 419.8,287.3 416.2,283.8 410.9,285.6"/>
<path d="M414.4,282 418.9,285.6 423.3,288.2 426.9,293.6 431.3,297.1 434.9,303.3 438.4,306.9 442,311.3 444.7,315.8"/>
<path d="M428.7,326.4 432.2,328.2 435.8,333.6 439.3,338.9 441.1,346 442.9,351.3 440.2,349.6 437.6,344.2 434,340.7 432.2,335.3 429.6,330.9 428.7,326.4"/>
<path d="M464.2,369.1 469.6,370.9 474.9,374.4 480.2,379.8 485.6,385.1 490.9,390.4 494.4,395.8 492.7,397.6 487.3,394 482,390.4 476.7,385.1 471.3,379.8 466,374.4 464.2,369.1"/>
<path d="M487,119 510,117 520,121 536,121 548,126 540,131 530,135 522,138 518,142 516,148 508,150 504,153 498,154 494,149 488,146 481,144 484,138 483,134 490,129 491,124 487,119"/>
<path d="M548,130 555,131 558,137 564,134 572,136 580,137 582,133 588,134 592,137 596,144 600,146 599,141 596,134 598,130 606,131 614,133 618,140 622,148 624,153 632,159 640,162 644,166 642,170 636,168 630,169 629,172 635,174 637,177 630,177 622,176 614,173 608,172 602,176 594,178 588,179 580,178 572,177 564,176 558,174 550,172 542,170 536,166 536,163 544,161 556,159 568,159 573,161 570,163 560,163 552,162 544,157 534,155 529,154 536,151 546,151 547,149 538,149 530,147 525,144 528,140 534,136 540,133 548,130"/>
<path d="M436,178 440,175 446,171 454,168 462,166 466,160 464,158 470,161 473,165 478,169 483,171 485,166 488,167 489,172 494,170 497,166 506,167 516,170 524,173 532,176 540,177 548,180 554,181 556,183 550,185 548,188 554,190 562,190 568,189 576,187 582,187 588,189 594,192 596,196 600,201 603,198 602,192 599,188 600,184 608,181 612,179 614,182 620,184 628,187 636,189 644,189 652,188 660,189 666,187 670,188 674,192 680,194"/>
<path d="M440,168 446,165 454,164 452,167 444,170 440,171"/>
<path d="M556,115 564,113 580,113 586,114 578,117 568,118 560,118 556,115"/>
<path d="M634,132 640,127 650,124 660,123 670,125 674,130 672,136 668,132 662,130 656,132 662,136 670,140 673,144 666,148 662,151 658,146 650,143 642,139 637,136 634,132"/>
<path d="M606,127 614,126 620,128 616,131 610,131 606,127"/>
<path d="M656,176 662,170 668,168 674,172 680,176 674,180 666,179 657,177 656,176"/>
<path d="M746,130 754,127 770,125 776,126 784,127 798,127 806,131 800,134 790,135 784,139 778,141 776,143 780,142 790,144 796,140 804,137 812,138 818,143 814,149 820,150 828,148 834,151 838,155 844,157 852,159 858,162 854,166 860,168 866,172 862,176 858,178 864,181 868,186 876,187 882,189 886,194 892,197 898,200 900,204"/>
<path d="M686,112 696,114 702,116 710,117 720,116 728,117 740,116 750,117 760,116 762,113"/>
<path d="M764,117 772,118 780,117 780,112"/>
<path d="M718,138 724,131 732,126 744,125 746,130 740,132 737,138 740,142 746,145 751,141 754,142 748,148 752,152 746,155 740,149 736,144 730,145 726,148 720,146 717,142 718,138"/>
<path d="M680,128 684,123 692,122 702,123 712,124 710,129 704,132 698,133 692,135 690,139 685,141 681,136 680,128"/>
<path d="M660,124 668,126 672,132 668,136 664,140 670,145 666,149 660,151"/>
<path d="M674,154 680,148 690,146 697,149 698,156 703,161 700,166 696,168 695,174 690,178 686,174 682,172 678,166 675,160 674,154"/>
<path d="M660,170 666,168 672,172 676,178 672,184 666,182 660,180"/>
<path d="M660,186 668,188 674,190 680,192 678,196 672,192 666,191 660,190"/>
<path d="M712,176 716,172 722,174 726,178 728,184 726,190 732,194 740,192 744,188 748,182 752,178 748,172 746,169 752,168 760,170 768,172 772,176 770,182 766,186 768,191 774,192 772,196 766,200 760,202 754,200 748,197 751,202 756,206 754,210 748,207 744,204 738,202 740,206 736,208"/>
<path d="M778,158 784,160 792,162 800,166 806,170 812,172 818,178 824,182 830,188 832,196 828,200 824,204 820,208 818,214 812,218 808,221 800,216 796,220 798,226 804,227 812,223 818,220 826,224 832,228 836,234 842,240 846,244 850,240 856,242 862,244 870,250 876,252 882,255"/>
<path d="M801,190 804,185 810,183 814,186 813,192 808,195 803,194 801,190"/>
<path d="M742,210 746,214 750,218 756,220 764,221 770,224 768,230 760,228 754,232 748,236 742,232 736,234 740,228 744,224 742,218 742,210"/>
<path d="M798,248 804,246 812,248 820,247 828,250 836,252 842,256 848,260 850,266 852,272 850,280 848,286 852,290"/>
<path d="M798,248 794,252 798,258 796,264 800,270 798,276 794,282 796,288 800,292"/>
<path d="M694,230 702,232 708,234 702,240 700,244 696,252 690,260 686,270 684,278 688,284 694,288 698,292"/>
<path d="M757,246 764,241 770,240 768,245 762,248 757,246"/>
<path d="M780,252 785,247 787,250 784,255 780,252"/>
<path d="M711,210 718,208 726,211 730,214 724,215 716,213 711,210"/>
<path d="M860,208 866,202 872,201 878,206 882,212 886,220 884,228 880,234 883,242 878,240 872,234 866,226 862,218 860,208"/>
<path d="M856,232 862,236 868,242 872,248 868,250 862,244 857,238 856,232"/>
<path d="M694.7,250 689.3,258 685.3,268.7 686.7,279.3 694.7,286 700,295.3 702.7,303.3 713.3,300.7 724,304.7 732,311.3 742.7,316.7 753.3,320.7 764,323.3 768,330 769.3,340.7 766.7,346 770.7,352.7 777.3,356.7 780,362 786.7,367.3 790.7,362 792,354 790.7,343.3 788,335.3 785.3,327.3 790.7,323.3 798.7,319.3 805.3,311.3 806.7,300.7 801.3,292.7 796,284.7 793.3,276.7 797.3,268.7 800,260.7 798.7,252.7 793.3,250"/>
<path d="M782.7,315.3 789.3,308.7 790.7,311.3 785.3,316.7 782.7,315.3"/>
<path d="M770.7,344.7 776,343.3 777.3,347.3 772,348.7 770.7,344.7"/>
<path d="M830.7,250 838.7,255.3 849.3,260.7 852,268.7 849.3,276.7 846.7,284.7 852,287.3 860,284.7 862.7,290 870.7,287.3 876,282 881.3,274 884,268.7 889.3,274 894.7,284.7 900,295.3 902.7,303.3 900,307.3 906.7,311.3 910.7,319.3 916,324.7 924,330 937.3,335.3 926.7,334.8 918.7,337.5 913.3,341.2 922.7,337.5 937.3,336.7 940,343.3 942.7,351.3 940,356.7 932,359.3 924,362 916,367.3 908,371.3 900,372.7 889.3,374 878.7,374 870.7,375.3 865.3,380.7 860,386 854.7,391.3 849.3,396.7 845.3,404.7 841.3,410 836,420.7 830.7,428.7"/>
<path d="M846.7,407.3 854.7,399.3 862.7,391.3 870.7,387.3 881.3,386 884,391.3 878.7,396.7 873.3,395.3 870.7,399.3 876,404.7 881.3,410 886.7,412.7 884,418 892,420.7 900,418 908,412.7 916,410 910.7,415.3 916,419.3 908,423.3 900,427.3 892,431.3 884,436.7 876,440.7 873.3,444.7 870.7,440.7 876,434 881.3,428.7 878.7,424.7 873.3,426 868,431.3 862.7,436.7 858.7,439.9"/>
<path d="M886.7,379.3 894.7,380.7 902.7,384.7 897.3,386 889.3,383.3 886.7,379.3"/>
<path d="M942.7,359.3 937.3,364.7 932,372.7 926.7,383.3 922.7,391.3 918.7,399.3 920,404.7 926.7,402 934.7,400.7 940,406 946.7,403.3 950.7,407.3 956,410 958.7,404.7 962.7,399.3 960,391.3 954.7,386 950.7,380.7 946.7,378 942.7,382 938.7,378 942.7,370 944,362 942.7,359.3"/>
<path d="M930.8,112.7 936.5,118.3 942.2,126.8 949.3,133.9 945,138.2 942.2,146.7 947.8,150.9 956.3,149.5 964.9,146.7 969.1,150.9 973.4,160.8 977.6,163.7 977.6,172.2 971.9,175 964.9,177.8 960.6,183.5 957.8,192 960.6,200.5 957.8,206.2 962,211.8 966.3,218.9 967.7,226 973.4,230.3 977.6,237.3"/>
<path d="M953.5,158 962,155.2 970.5,160.8 976.2,165.1 967.7,167.9 959.2,165.1 953.5,169.3 949.3,165.1 953.5,158"/>
<path d="M959.2,180.7 969.1,179.3 976.2,183.5 973.4,190.6 966.3,192 960.6,187.8 959.2,180.7"/>
<path d="M281.2,697.5 285,691.2 290,698.8 286.2,706.2 282.5,705 281.2,697.5"/>
<path d="M267.5,678.8 272.5,682.5 277.5,683.8 280,687"/>
<path d="M356,164.7 366,167 376,169 396,172 410,175 425,178 436,178"/>
</g>
<g clip-path="url(#ax)" fill="none" stroke="#000" stroke-width="1.8" stroke-linejoin="round">
<path d="M537.1,387.6 537.1,414.9 537.9,419.5 540.7,424.7 538.4,431.1 536.1,436.4 538.1,439 537.2,442.7 537.2,461.8"/>
<path d="M491.4,416.8 495.3,417.3 498.6,419.9 499.6,423.1 503.2,423.9 509.8,423.1 514.4,422.4 520.3,420.2 524.3,419.4 537.9,419.4"/>
<path d="M489.4,461.8 576.5,461.8"/>
<path d="M517.7,461.8 517.7,493.6 553,536 553.2,537.1"/>
<path d="M556.9,461.8 556.9,514.8 556.9,523.3 552.5,524.3 553.4,533.9 553,537.1 554.3,545.5 552.4,553 553.8,557.2 552.4,560.2"/>
<path d="M556.9,514.8 635.8,514.8"/>
<path d="M576.5,435.3 576.5,472.4 589.7,472.4"/>
<path d="M589.7,472.4 589.7,574.9"/>
<path d="M543.7,387.6 543.7,398.2 546,404 551.9,408.8 554.5,412.5 554.2,423.6 557.8,423.1 560.8,431.1 564.7,436.4 570.3,434.8 576.5,435.3"/>
<path d="M576.5,430 622.6,430"/>
<path d="M622.6,387.6 622.6,472.4"/>
<path d="M576.5,472.4 635.7,472.4 635.7,514.8"/>
<path d="M622.6,420 671.8,420"/>
<path d="M622.6,451.2 659.1,451.2 663,453.3 667.6,452.8 670.9,455.4 672.5,456.5"/>
<path d="M635.7,483 680.1,483"/>
<path d="M629.5,514.8 629.5,520.1 649.2,520.1 649.2,540.7 654.5,543.4 658.4,545 662.7,547.7 667.6,549.2 672.9,548.7 678.8,547.9 685.5,550.4"/>
<path d="M629.2,520.1 629.1,567.8 605.7,567.8 606.3,570.1"/>
<path d="M684.6,492.5 684.6,520.1 685.8,531.8 685.5,550.4 688.4,551.4 688.4,567.8 691.6,576.3 690.6,584.8 689.7,592.2"/>
<path d="M684.6,520.1 714,520.1 712.5,525.4 716.9,525.4"/>
<path d="M688.4,557 707.3,557.2"/>
<path d="M680.1,483 682.7,485.6 681.4,488.3 684.6,492.5"/>
<path d="M677,476.9 703.6,476.6 705.6,479"/>
<path d="M680.1,483 677,476.9 676.5,470.3 674.8,465 672.5,456.5 672.5,445.9"/>
<path d="M672.5,445.9 706.9,445.9"/>
<path d="M672.5,445.9 672.5,426.8 669.9,423.6 671.8,420 671.6,416.2 670.2,409.9 667.9,398.2 667.4,387.6"/>
<path d="M701.8,412 699.8,412.5 699.8,418.3 696.2,423.6 696.9,432.6 701.8,436.4 706.9,445.9 707.7,452.3 710.8,456.4 713.6,460.7 712.3,466.6 707.7,469.8 707.7,474.5 705.6,479 705.1,484.1 710,491.5 711.3,495 713.6,496.2 712.7,502.1 716.3,506.3 718.2,511.6 720.7,515 718.9,520.1 716.9,525.4 714.3,534.9 713,536 711,540.2 708.4,546.6 707.1,557.2 708.4,563.6 704.4,574.2 704.4,578.4 716.7,578.4 716.3,582.6 717.6,586.9"/>
<path d="M710.8,456.4 729.4,456.5"/>
<path d="M731.2,464.3 731.2,489.9 730.7,495.7 728.4,502.1 727.5,505.3"/>
<path d="M720.7,515 724.8,513.7 727.5,505.3 734,506.3 738,504.7 741.3,504.2 745.2,496.8 749,492.5 753.1,495.7 757.7,496.8 763.6,500 766.3,497.8 769.2,491.5 775.1,486.2 776.8,478.8 777.3,476.2"/>
<path d="M749,465 749,492.5"/>
<path d="M733.4,464.3 749,464.3 758,464.7"/>
<path d="M777.3,458.6 777.3,486"/>
<path d="M782.3,459.1 782.3,461.8 811.3,461.8 815.6,468.7 812.6,474 812.3,476.6 815.2,480.9 811,485.1 810,487.2"/>
<path d="M777.3,486 808.4,486 809,499.3 813.3,499.4"/>
<path d="M815.6,468.7 820.8,472.4"/>
<path d="M784.1,486 784.1,491.5 788.6,487.2 792.6,486.2 795.7,490.2 798.5,493.1 800.1,495.7 798.5,500 801.1,501.6 805.1,504.7"/>
<path d="M795.7,490.2 791.6,489.4 791.6,493.6 788.3,495.7 786,499.4 783,498.4 779.1,509 775.1,511.1 772.5,512.1 767.9,509.2 763.6,502.1 763.6,500"/>
<path d="M756.6,519 807.9,519.6"/>
<path d="M767.9,509.2 763,514.3 756.6,519"/>
<path d="M718.9,520.1 727.8,520.1 727.8,518.5 756.6,519"/>
<path d="M769.7,519.1 767.2,524.3 763.6,525.4 760.3,529.6 754.4,531.8 752.3,536"/>
<path d="M713,536 760.3,536"/>
<path d="M726.8,536 727.5,537.1 725,568.9 725.5,586.9"/>
<path d="M743.9,536 746.7,558.6 748.5,564.6 747.2,572 747.8,578.4 748.8,581.6"/>
<path d="M730.7,578.4 747.8,578.4"/>
<path d="M730.7,578.4 730.7,580 732.1,582.6 731.4,585.8"/>
<path d="M748.8,581.6 766.3,583 767.2,585.3 767.6,581 770.9,581.4"/>
<path d="M760.3,536 761.6,541.3 767.6,551.9 770.9,557.2 773.5,566.7"/>
<path d="M760.3,536 765.6,533.9 773.9,534.4 774.6,538.1 782.9,538.1 790.3,548.1"/>
<path d="M496,387.6 681.1,387.6 681.1,383.6 683.4,384.4 684.7,390.8 690,391.8 695.6,391.8 701.8,395 705.8,397.7 710,397.1 717.6,398.2"/>
<path d="M824.5,430 824.5,444.8 825.1,453.9 823.5,461.3 823.5,469.2 822.5,472.4"/>
<path d="M825.1,453.9 830.3,454.1 837.9,454.4 841.2,452.6"/>
<path d="M823.5,461.3 834.6,461.6 837.4,461.6"/>
<path d="M834.6,461.6 834.6,468.2"/>
<path d="M837.4,461.6 838.9,467.1"/>
<path d="M830.3,454.1 831,445.9 833,439.5 836.6,430"/>
<path d="M841.2,452.6 840,447.5 839.7,426.8"/>
</g>
<g clip-path="url(#ax)" fill="#000" stroke="none">
<circle cx="762.3" cy="678.0" r="2.6"/>
<circle cx="793.9" cy="648.4" r="2.1"/>
<circle cx="795.2" cy="652.6" r="1.8"/>
<circle cx="791.2" cy="624.5" r="1.8"/>
<circle cx="799.1" cy="626.1" r="1.8"/>
<circle cx="800.4" cy="631.4" r="1.7"/>
<circle cx="805.1" cy="640.9" r="1.8"/>
<circle cx="806.4" cy="646.2" r="1.7"/>
<circle cx="812.9" cy="659.0" r="1.7"/>
<circle cx="810.3" cy="652.6" r="1.6"/>
<circle cx="822.8" cy="683.3" r="2.1"/>
<circle cx="880.7" cy="716.2" r="1.7"/>
<circle cx="900.4" cy="725.7" r="1.6"/>
<circle cx="902.4" cy="735.3" r="2.1"/>
<circle cx="903.7" cy="743.8" r="1.7"/>
<circle cx="905.7" cy="752.2" r="2.0"/>
<circle cx="905.7" cy="759.7" r="1.7"/>
<circle cx="904.3" cy="767.1" r="1.6"/>
<circle cx="901.1" cy="778.7" r="1.6"/>
<circle cx="915.2" cy="767.6" r="1.6"/>
<circle cx="903.7" cy="795.7" r="2.0"/>
<circle cx="869.3" cy="547.4" r="3.0"/>
<circle cx="913.7" cy="440.7" r="2.6"/>
<circle cx="257.5" cy="672.5" r="2.3"/>
<circle cx="267.5" cy="678.5" r="2.0"/>
<circle cx="160.0" cy="352.0" r="2.9"/>
<circle cx="201.0" cy="341.5" r="2.0"/>
</g>
<g clip-path="url(#ax)" fill="none" stroke-width="1" shape-rendering="crispEdges">
<path d="M274.5,143.5 379.5,165.5 379.5,260.5 399.5,271.5 419.5,271.5 451.5,313.5 451.5,334.5 438.5,334.5 425.5,324.5 386.5,281.5 346.5,271.5 340.5,281.5 320.5,281.5 294.5,313.5 280.5,302.5 261.5,324.5 195.5,355.5 195.5,334.5 261.5,302.5 267.5,292.5 248.5,292.5 221.5,271.5 215.5,281.5 202.5,271.5 215.5,260.5 208.5,249.5 234.5,228.5 208.5,228.5 195.5,207.5 221.5,196.5 208.5,186.5 208.5,175.5 274.5,143.5" stroke="#ffff00"/>
<path d="M484.5,377.5 728.5,377.5 767.5,430.5 767.5,451.5 760.5,461.5 767.5,461.5 787.5,440.5 800.5,440.5 807.5,430.5 833.5,430.5 853.5,398.5 859.5,398.5 866.5,408.5 866.5,419.5 872.5,430.5 872.5,440.5 846.5,451.5 853.5,472.5 826.5,483.5 813.5,514.5 813.5,536.5 774.5,578.5 787.5,642.5 767.5,642.5 754.5,599.5 695.5,599.5 675.5,610.5 668.5,642.5 655.5,631.5 642.5,599.5 622.5,599.5 609.5,578.5 576.5,578.5 517.5,557.5 484.5,483.5 484.5,377.5" stroke="#ffff00"/>
<path d="M373.5,165.5 373.5,271.5 405.5,281.5 419.5,281.5 445.5,313.5 445.5,324.5 425.5,324.5 432.5,345.5 484.5,398.5 491.5,387.5 701.5,387.5 760.5,419.5 787.5,451.5 813.5,430.5 839.5,430.5 853.5,408.5 859.5,408.5 859.5,419.5 872.5,451.5 931.5,408.5 958.5,419.5 964.5,398.5 938.5,334.5 912.5,313.5 885.5,260.5 471.5,154.5 373.5,165.5" stroke="#00ffff"/>
</g>
<rect x="156.5" y="112.5" width="822" height="689" fill="none" stroke="#000" stroke-width="1" shape-rendering="crispEdges"/>
<g shape-rendering="crispEdges">
<rect x="1010" y="113.00" width="43" height="11.25" fill="#800000"/>
<rect x="1010" y="123.75" width="43" height="11.25" fill="#8f0000"/>
<rect x="1010" y="134.50" width="43" height="11.25" fill="#9f0000"/>
<rect x="1010" y="145.25" width="43" height="11.25" fill="#af0000"/>
<rect x="1010" y="156.00" width="43" height="11.25" fill="#bf0000"/>
<rect x="1010" y="166.75" width="43" height="11.25" fill="#cf0000"/>
<rect x="1010" y="177.50" width="43" height="11.25" fill="#df0000"/>
<rect x="1010" y="188.25" width="43" height="11.25" fill="#ef0000"/>
<rect x="1010" y="199.00" width="43" height="11.25" fill="#ff0000"/>
<rect x="1010" y="209.75" width="43" height="11.25" fill="#ff1000"/>
<rect x="1010" y="220.50" width="43" height="11.25" fill="#ff2000"/>
<rect x="1010" y="231.25" width="43" height="11.25" fill="#ff3000"/>
<rect x="1010" y="242.00" width="43" height="11.25" fill="#ff4000"/>
<rect x="1010" y="252.75" width="43" height="11.25" fill="#ff5000"/>
<rect x="1010" y="263.50" width="43" height="11.25" fill="#ff6000"/>
<rect x="1010" y="274.25" width="43" height="11.25" fill="#ff7000"/>
<rect x="1010" y="285.00" width="43" height="11.25" fill="#ff8000"/>
<rect x="1010" y="295.75" width="43" height="11.25" fill="#ff8f00"/>
<rect x="1010" y="306.50" width="43" height="11.25" fill="#ff9f00"/>
<rect x="1010" y="317.25" width="43" height="11.25" fill="#ffaf00"/>
<rect x="1010" y="328.00" width="43" height="11.25" fill="#ffbf00"/>
<rect x="1010" y="338.75" width="43" height="11.25" fill="#ffcf00"/>
<rect x="1010" y="349.50" width="43" height="11.25" fill="#ffdf00"/>
<rect x="1010" y="360.25" width="43" height="11.25" fill="#ffef00"/>
<rect x="1010" y="371.00" width="43" height="11.25" fill="#ffff00"/>
<rect x="1010" y="381.75" width="43" height="11.25" fill="#efff10"/>
<rect x="1010" y="392.50" width="43" height="11.25" fill="#dfff20"/>
<rect x="1010" y="403.25" width="43" height="11.25" fill="#cfff30"/>
<rect x="1010" y="414.00" width="43" height="11.25" fill="#bfff40"/>
<rect x="1010" y="424.75" width="43" height="11.25" fill="#afff50"/>
<rect x="1010" y="435.50" width="43" height="11.25" fill="#9fff60"/>
<rect x="1010" y="446.25" width="43" height="11.25" fill="#8fff70"/>
<rect x="1010" y="457.00" width="43" height="11.25" fill="#80ff80"/>
<rect x="1010" y="467.75" width="43" height="11.25" fill="#70ff8f"/>
<rect x="1010" y="478.50" width="43" height="11.25" fill="#60ff9f"/>
<rect x="1010" y="489.25" width="43" height="11.25" fill="#50ffaf"/>
<rect x="1010" y="500.00" width="43" height="11.25" fill="#40ffbf"/>
<rect x="1010" y="510.75" width="43" height="11.25" fill="#30ffcf"/>
<rect x="1010" y="521.50" width="43" height="11.25" fill="#20ffdf"/>
<rect x="1010" y="532.25" width="43" height="11.25" fill="#10ffef"/>
<rect x="1010" y="543.00" width="43" height="11.25" fill="#00ffff"/>
<rect x="1010" y="553.75" width="43" height="11.25" fill="#00efff"/>
<rect x="1010" y="564.50" width="43" height="11.25" fill="#00dfff"/>
<rect x="1010" y="575.25" width="43" height="11.25" fill="#00cfff"/>
<rect x="1010" y="586.00" width="43" height="11.25" fill="#00bfff"/>
<rect x="1010" y="596.75" width="43" height="11.25" fill="#00afff"/>
<rect x="1010" y="607.50" width="43" height="11.25" fill="#009fff"/>
<rect x="1010" y="618.25" width="43" height="11.25" fill="#008fff"/>
<rect x="1010" y="629.00" width="43" height="11.25" fill="#0080ff"/>
<rect x="1010" y="639.75" width="43" height="11.25" fill="#0070ff"/>
<rect x="1010" y="650.50" width="43" height="11.25" fill="#0060ff"/>
<rect x="1010" y="661.25" width="43" height="11.25" fill="#0050ff"/>
<rect x="1010" y="672.00" width="43" height="11.25" fill="#0040ff"/>
<rect x="1010" y="682.75" width="43" height="11.25" fill="#0030ff"/>
<rect x="1010" y="693.50" width="43" height="11.25" fill="#0020ff"/>
<rect x="1010" y="704.25" width="43" height="11.25" fill="#0010ff"/>
<rect x="1010" y="715.00" width="43" height="11.25" fill="#0000ff"/>
<rect x="1010" y="725.75" width="43" height="11.25" fill="#0000ef"/>
<rect x="1010" y="736.50" width="43" height="11.25" fill="#0000df"/>
<rect x="1010" y="747.25" width="43" height="11.25" fill="#0000cf"/>
<rect x="1010" y="758.00" width="43" height="11.25" fill="#0000bf"/>
<rect x="1010" y="768.75" width="43" height="11.25" fill="#0000af"/>
<rect x="1010" y="779.50" width="43" height="11.25" fill="#00009f"/>
<rect x="1010" y="790.25" width="43" height="11.25" fill="#00008f"/>
<rect x="1010.5" y="113.5" width="42" height="688" fill="none" stroke="#000"/>
<path d="M1011,572.5H1017M1052,572.5H1046" stroke="#000"/>
<path d="M1011,343.5H1017M1052,343.5H1046" stroke="#000"/>
</g>
<text class="cb" x="1058" y="119.1">1</text>
<text class="cb" x="1058" y="348.4">0.95</text>
<text class="cb" x="1058" y="577.8">0.9</text>
<text class="cb" x="1058" y="807.1">0.85</text>
<text transform="translate(566.00,19.50) scale(1,0.860)" font-size="25px" text-anchor="middle" font-weight="normal" xml:space="preserve">Shadow Raytheon 2 LP Coverage Contours</text>
<text transform="translate(566.00,45.50) scale(1,0.860)" font-size="25px" text-anchor="middle" font-weight="normal" xml:space="preserve">03/05/25</text>
<text transform="translate(566.00,71.00) scale(1,0.860)" font-size="25px" text-anchor="middle" font-weight="normal" xml:space="preserve">Week 2356 Day 3</text>
<text transform="translate(248.14,822.50) scale(1,1.000)" font-size="20.7px" text-anchor="middle" font-weight="normal" xml:space="preserve" stroke="#fff" stroke-width="0.3">−160</text>
<text transform="translate(379.66,822.50) scale(1,1.000)" font-size="20.7px" text-anchor="middle" font-weight="normal" xml:space="preserve" stroke="#fff" stroke-width="0.3">−140</text>
<text transform="translate(511.18,822.50) scale(1,1.000)" font-size="20.7px" text-anchor="middle" font-weight="normal" xml:space="preserve" stroke="#fff" stroke-width="0.3">−120</text>
<text transform="translate(642.70,822.50) scale(1,1.000)" font-size="20.7px" text-anchor="middle" font-weight="normal" xml:space="preserve" stroke="#fff" stroke-width="0.3">−100</text>
<text transform="translate(774.22,822.50) scale(1,1.000)" font-size="20.7px" text-anchor="middle" font-weight="normal" xml:space="preserve" stroke="#fff" stroke-width="0.3">−80</text>
<text transform="translate(905.74,822.50) scale(1,1.000)" font-size="20.7px" text-anchor="middle" font-weight="normal" xml:space="preserve" stroke="#fff" stroke-width="0.3">−60</text>
<text transform="translate(149.00,805.50) scale(1,1.000)" font-size="20.7px" text-anchor="end" font-weight="normal" xml:space="preserve" stroke="#fff" stroke-width="0.3">10</text>
<text transform="translate(149.00,699.50) scale(1,1.000)" font-size="20.7px" text-anchor="end" font-weight="normal" xml:space="preserve" stroke="#fff" stroke-width="0.3">20</text>
<text transform="translate(149.00,593.50) scale(1,1.000)" font-size="20.7px" text-anchor="end" font-weight="normal" xml:space="preserve" stroke="#fff" stroke-width="0.3">30</text>
<text transform="translate(149.00,487.50) scale(1,1.000)" font-size="20.7px" text-anchor="end" font-weight="normal" xml:space="preserve" stroke="#fff" stroke-width="0.3">40</text>
<text transform="translate(149.00,381.50) scale(1,1.000)" font-size="20.7px" text-anchor="end" font-weight="normal" xml:space="preserve" stroke="#fff" stroke-width="0.3">50</text>
<text transform="translate(149.00,275.50) scale(1,1.000)" font-size="20.7px" text-anchor="end" font-weight="normal" xml:space="preserve" stroke="#fff" stroke-width="0.3">60</text>
<text transform="translate(149.00,169.50) scale(1,1.000)" font-size="20.7px" text-anchor="end" font-weight="normal" xml:space="preserve" stroke="#fff" stroke-width="0.3">70</text>
<text transform="translate(570.00,843.70) scale(1,0.900)" font-size="18px" text-anchor="middle" font-weight="bold" xml:space="preserve">Longitude</text>
<text transform="translate(111,454.5) rotate(-90) scale(1,0.9)" font-size="18px" font-weight="bold" text-anchor="middle">Latitude</text>
<text transform="translate(163.00,572.70) scale(1,0.890)" font-size="15px" text-anchor="start" font-weight="normal" xml:space="preserve">Percent| CONUS   | Alaska |Canada</text>
<text transform="translate(163.00,593.70) scale(1,0.890)" font-size="15px" text-anchor="start" font-weight="normal" xml:space="preserve"> Avail.|Coverage |Coverage|Coverage</text>
<text transform="translate(163.00,614.70) scale(1,0.890)" font-size="15px" text-anchor="start" font-weight="normal" xml:space="preserve">  99   | 100.00% | 100.00% | 100.00%</text>
<text transform="translate(163.00,635.70) scale(1,0.890)" font-size="15px" text-anchor="start" font-weight="normal" xml:space="preserve">  99.9 | 100.00% | 100.00% | 97.52%</text>
<text transform="translate(163.00,656.70) scale(1,0.890)" font-size="15px" text-anchor="start" font-weight="normal" xml:space="preserve">  100  | 100.00% | 100.00% | 94.29%</text>
<text transform="translate(163.00,602.50) scale(1,0.890)" font-size="15px" text-anchor="start" font-weight="normal" xml:space="preserve">-----------------------------------</text>
<text transform="translate(187.50,746.00) scale(1,1.100)" font-size="10px" text-anchor="start" font-weight="normal" xml:space="preserve">W.J.H. FAA Technical Center</text>
<text transform="translate(187.50,759.50) scale(1,1.100)" font-size="10px" text-anchor="start" font-weight="normal" xml:space="preserve">WAAS Test Team</text>
</svg></body></html>
